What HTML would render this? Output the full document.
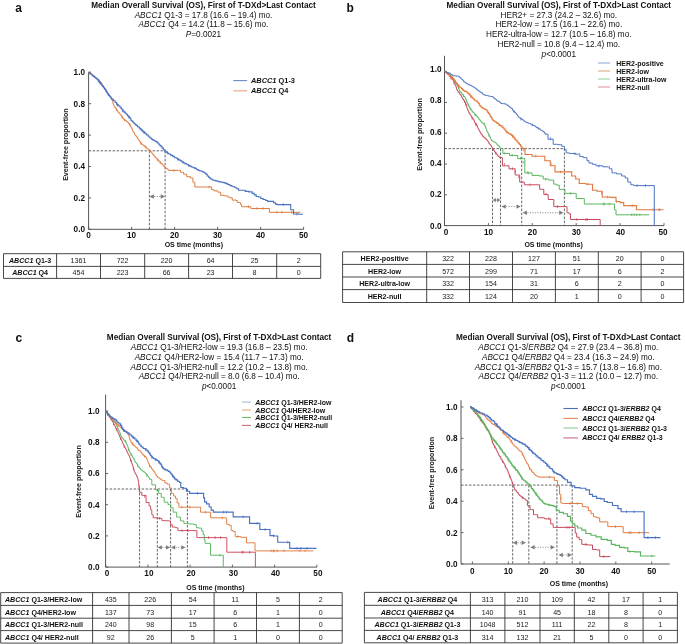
<!DOCTYPE html>
<html><head><meta charset="utf-8"><style>
html,body{margin:0;padding:0;background:#fff;width:685px;height:644px;overflow:hidden}
svg{display:block;filter:blur(0.3px)}
text{font-family:"Liberation Sans", sans-serif}
</style></head><body>
<svg width="685" height="644" viewBox="0 0 685 644" font-family='"Liberation Sans", sans-serif'>
<rect width="685" height="644" fill="#fff"/>
<text x="15.2" y="11.7" font-size="12" font-weight="bold" font-style="normal" text-anchor="start" fill="#111">a</text>
<text x="203.5" y="7.7" font-size="8.2" font-weight="bold" font-style="normal" text-anchor="middle" fill="#111">Median Overall Survival (OS), First of T-DXd&gt;Last Contact</text>
<text x="203.5" y="17.5" font-size="8.2" font-weight="normal" font-style="normal" text-anchor="middle" fill="#111"><tspan font-style="italic">ABCC1</tspan> Q1-3 = 17.8 (16.6 – 19.4) mo.</text>
<text x="203.5" y="27.2" font-size="8.2" font-weight="normal" font-style="normal" text-anchor="middle" fill="#111"><tspan font-style="italic">ABCC1</tspan> Q4 = 14.2 (11.8 – 15.6) mo.</text>
<text x="203.5" y="36.9" font-size="8.2" font-weight="normal" font-style="normal" text-anchor="middle" fill="#111"><tspan font-style="italic">P</tspan>=0.0021</text>
<line x1="88.6" y1="72.3" x2="88.6" y2="229.3" stroke="#555" stroke-width="1"/>
<line x1="88.6" y1="229.3" x2="303.6" y2="229.3" stroke="#555" stroke-width="1"/>
<line x1="88.6" y1="229.3" x2="91.1" y2="229.3" stroke="#555" stroke-width="0.9"/>
<text x="85.0" y="232.2" font-size="8.2" font-weight="bold" font-style="normal" text-anchor="end" fill="#111">0.0</text>
<line x1="88.6" y1="197.9" x2="91.1" y2="197.9" stroke="#555" stroke-width="0.9"/>
<text x="85.0" y="200.8" font-size="8.2" font-weight="bold" font-style="normal" text-anchor="end" fill="#111">0.2</text>
<line x1="88.6" y1="166.5" x2="91.1" y2="166.5" stroke="#555" stroke-width="0.9"/>
<text x="85.0" y="169.4" font-size="8.2" font-weight="bold" font-style="normal" text-anchor="end" fill="#111">0.4</text>
<line x1="88.6" y1="135.1" x2="91.1" y2="135.1" stroke="#555" stroke-width="0.9"/>
<text x="85.0" y="138.0" font-size="8.2" font-weight="bold" font-style="normal" text-anchor="end" fill="#111">0.6</text>
<line x1="88.6" y1="103.7" x2="91.1" y2="103.7" stroke="#555" stroke-width="0.9"/>
<text x="85.0" y="106.6" font-size="8.2" font-weight="bold" font-style="normal" text-anchor="end" fill="#111">0.8</text>
<line x1="88.6" y1="72.3" x2="91.1" y2="72.3" stroke="#555" stroke-width="0.9"/>
<text x="85.0" y="75.2" font-size="8.2" font-weight="bold" font-style="normal" text-anchor="end" fill="#111">1.0</text>
<line x1="88.6" y1="229.3" x2="88.6" y2="226.8" stroke="#555" stroke-width="0.9"/>
<text x="88.6" y="238.0" font-size="8.2" font-weight="bold" font-style="normal" text-anchor="middle" fill="#111">0</text>
<line x1="131.6" y1="229.3" x2="131.6" y2="226.8" stroke="#555" stroke-width="0.9"/>
<text x="131.6" y="238.0" font-size="8.2" font-weight="bold" font-style="normal" text-anchor="middle" fill="#111">10</text>
<line x1="174.6" y1="229.3" x2="174.6" y2="226.8" stroke="#555" stroke-width="0.9"/>
<text x="174.6" y="238.0" font-size="8.2" font-weight="bold" font-style="normal" text-anchor="middle" fill="#111">20</text>
<line x1="217.6" y1="229.3" x2="217.6" y2="226.8" stroke="#555" stroke-width="0.9"/>
<text x="217.6" y="238.0" font-size="8.2" font-weight="bold" font-style="normal" text-anchor="middle" fill="#111">30</text>
<line x1="260.6" y1="229.3" x2="260.6" y2="226.8" stroke="#555" stroke-width="0.9"/>
<text x="260.6" y="238.0" font-size="8.2" font-weight="bold" font-style="normal" text-anchor="middle" fill="#111">40</text>
<line x1="303.6" y1="229.3" x2="303.6" y2="226.8" stroke="#555" stroke-width="0.9"/>
<text x="303.6" y="238.0" font-size="8.2" font-weight="bold" font-style="normal" text-anchor="middle" fill="#111">50</text>
<text x="193.8" y="247.0" font-size="7" font-weight="bold" font-style="normal" text-anchor="middle" fill="#111">OS time (months)</text>
<text x="0" y="0" font-size="7.1" font-weight="bold" text-anchor="middle" fill="#222" transform="translate(68,144.6) rotate(-90)">Event-free proportion</text>
<line x1="233.3" y1="80.6" x2="247.1" y2="80.6" stroke="#6d8ac8" stroke-width="1.1"/>
<text x="251.0" y="83.1" font-size="7.4" font-weight="bold" font-style="normal" text-anchor="start" fill="#111"><tspan font-style="italic">ABCC1</tspan> Q1-3</text>
<line x1="233.3" y1="90.8" x2="247.1" y2="90.8" stroke="#eab299" stroke-width="1.3"/>
<text x="251.0" y="93.3" font-size="7.4" font-weight="bold" font-style="normal" text-anchor="start" fill="#111"><tspan font-style="italic">ABCC1</tspan> Q4</text>
<line x1="88.6" y1="150.8" x2="165.1" y2="150.8" stroke="#555" stroke-width="0.9" stroke-dasharray="2.5,1.5"/>
<line x1="149.4" y1="150.8" x2="149.4" y2="229.3" stroke="#555" stroke-width="0.9" stroke-dasharray="2.5,1.5"/>
<line x1="165.1" y1="150.8" x2="165.1" y2="229.3" stroke="#555" stroke-width="0.9" stroke-dasharray="2.5,1.5"/>
<line x1="154.3" y1="196.5" x2="160.7" y2="196.5" stroke="#808080" stroke-width="1" stroke-dasharray="1,1.5"/>
<polygon points="149.6,196.5 153.8,194.3 153.8,198.7" fill="#7a7a7a"/>
<polygon points="164.9,196.5 160.7,194.3 160.7,198.7" fill="#7a7a7a"/>
<line x1="89.5" y1="71.7" x2="89.5" y2="74.3" stroke="#e07a3e" stroke-width="0.8"/>
<line x1="100.1" y1="81.0" x2="100.1" y2="83.6" stroke="#e07a3e" stroke-width="0.8"/>
<line x1="102.6" y1="84.6" x2="102.6" y2="87.2" stroke="#e07a3e" stroke-width="0.8"/>
<line x1="116.4" y1="108.4" x2="116.4" y2="111.0" stroke="#e07a3e" stroke-width="0.8"/>
<line x1="121.9" y1="115.8" x2="121.9" y2="118.4" stroke="#e07a3e" stroke-width="0.8"/>
<line x1="124.5" y1="118.9" x2="124.5" y2="121.5" stroke="#e07a3e" stroke-width="0.8"/>
<line x1="129.8" y1="123.5" x2="129.8" y2="126.1" stroke="#e07a3e" stroke-width="0.8"/>
<line x1="140.8" y1="142.1" x2="140.8" y2="144.7" stroke="#e07a3e" stroke-width="0.8"/>
<line x1="145.1" y1="145.7" x2="145.1" y2="148.3" stroke="#e07a3e" stroke-width="0.8"/>
<line x1="149.6" y1="149.7" x2="149.6" y2="152.3" stroke="#e07a3e" stroke-width="0.8"/>
<line x1="157.7" y1="158.8" x2="157.7" y2="161.4" stroke="#e07a3e" stroke-width="0.8"/>
<line x1="160.1" y1="161.3" x2="160.1" y2="163.9" stroke="#e07a3e" stroke-width="0.8"/>
<line x1="173.9" y1="169.1" x2="173.9" y2="171.7" stroke="#e07a3e" stroke-width="0.8"/>
<line x1="209.2" y1="185.7" x2="209.2" y2="188.3" stroke="#e07a3e" stroke-width="0.8"/>
<line x1="248.6" y1="205.4" x2="248.6" y2="208.0" stroke="#e07a3e" stroke-width="0.8"/>
<line x1="263.1" y1="207.2" x2="263.1" y2="209.8" stroke="#e07a3e" stroke-width="0.8"/>
<line x1="256.8" y1="207.2" x2="256.8" y2="209.8" stroke="#e07a3e" stroke-width="0.8"/>
<line x1="281.8" y1="211.0" x2="281.8" y2="213.6" stroke="#e07a3e" stroke-width="0.8"/>
<line x1="276.9" y1="211.0" x2="276.9" y2="213.6" stroke="#e07a3e" stroke-width="0.8"/>
<line x1="291.7" y1="211.0" x2="291.7" y2="213.6" stroke="#e07a3e" stroke-width="0.8"/>
<polyline points="88.6,72.3 89.6,72.3 89.6,73.0 90.7,73.0 90.7,74.2 92.2,74.2 92.2,74.9 92.9,74.9 92.9,75.8 94.4,75.8 94.4,77.0 95.4,77.0 95.4,78.2 96.4,78.2 96.4,78.7 97.8,78.7 97.8,79.7 99.0,79.7 99.0,80.8 99.9,80.8 99.9,82.3 101.0,82.3 101.0,83.0 101.7,83.0 101.7,84.6 102.4,84.6 102.4,85.9 103.6,85.9 103.6,86.9 104.0,86.9 104.0,88.3 105.3,88.3 105.3,89.2 105.9,89.2 105.9,90.4 106.7,90.4 106.7,91.8 107.5,91.8 107.5,93.4 108.5,93.4 108.5,94.4 109.5,94.4 109.5,95.7 110.1,95.7 110.1,96.6 110.8,96.6 110.8,98.0 111.4,98.0 111.4,99.1 112.0,99.1 112.0,100.0 112.3,100.0 112.3,101.4 112.8,101.4 112.8,102.3 113.1,102.3 113.1,104.1 113.6,104.1 113.6,104.7 113.9,104.7 113.9,106.2 114.7,106.2 114.7,107.5 115.8,107.5 115.8,108.6 116.3,108.6 116.3,109.8 117.4,109.8 117.4,110.9 118.0,110.9 118.0,112.4 119.2,112.4 119.2,113.7 120.1,113.7 120.1,114.5 120.9,114.5 120.9,115.8 122.0,115.8 122.0,116.6 122.5,116.6 122.5,118.3 123.5,118.3 123.5,119.3 124.8,119.3 124.8,120.3 126.3,120.3 126.3,121.5 127.5,121.5 127.5,122.2 128.3,122.2 128.3,123.5 129.7,123.5 129.7,124.6 130.2,124.6 130.2,125.5 130.7,125.5 130.7,126.9 131.3,126.9 131.3,128.1 132.1,128.1 132.1,129.5 132.5,129.5 132.5,130.7 133.1,130.7 133.1,131.9 133.7,131.9 133.7,132.6 134.5,132.6 134.5,133.9 134.9,133.9 134.9,135.1 135.7,135.1 135.7,136.1 136.9,136.1 136.9,137.6 137.8,137.6 137.8,138.9 138.3,138.9 138.3,139.9 139.2,139.9 139.2,140.9 140.1,140.9 140.1,142.5 141.1,142.5 141.1,143.8 142.3,143.8 142.3,144.9 143.7,144.9 143.7,145.9 145.2,145.9 145.2,146.6 146.3,146.6 146.3,148.1 147.4,148.1 147.4,149.1 148.7,149.1 148.7,149.9 150.0,149.9 150.0,151.2 151.0,151.2 151.0,152.0 151.7,152.0 151.7,153.3 152.8,153.3 152.8,154.6 153.6,154.6 153.6,155.8 154.9,155.8 154.9,157.3 156.1,157.3 156.1,158.3 157.1,158.3 157.1,159.5 158.3,159.5 158.3,161.0 160.0,161.0 160.0,162.4 160.7,162.4 160.7,163.4 162.2,163.4 162.2,164.5 163.1,164.5 163.1,165.7 163.8,165.7 163.8,166.6 165.0,166.6 165.0,168.0 166.5,168.0 166.5,168.8 167.8,168.8 167.8,169.6 168.7,169.6 168.7,170.4 178.6,170.4 180.5,170.4 180.5,172.3 182.4,172.3 183.6,172.3 183.6,174.2 184.8,174.2 186.7,174.2 186.7,176.6 188.6,176.6 190.4,176.6 190.4,177.9 192.3,177.9 192.9,177.9 192.9,182.2 193.5,182.2 194.8,182.2 194.8,187.0 196.0,187.0 210.9,187.0 211.6,187.0 211.6,189.7 212.2,189.7 214.1,189.7 214.1,190.9 215.9,190.9 217.8,190.9 217.8,192.2 219.6,192.2 220.6,192.2 220.6,195.3 221.5,195.3 224.3,195.3 224.3,195.9 227.1,195.9 227.7,195.9 227.7,197.1 228.3,197.1 230.2,197.1 230.2,197.8 232.0,197.8 232.3,197.8 232.3,200.2 232.7,200.2 235.0,200.0 236.0,200.0 236.0,200.5 237.0,200.5 237.3,200.5 237.3,202.4 237.6,202.4 240.1,202.6 240.6,202.6 240.6,204.6 241.1,204.6 241.6,204.6 241.6,206.7 242.2,206.7 250.3,206.7 250.8,206.7 250.8,208.5 251.3,208.5 269.2,208.5 269.4,208.5 269.4,212.3 269.7,212.3 300.4,212.3" fill="none" stroke="#e07a3e" stroke-width="1.0" stroke-linejoin="miter"/>
<line x1="98.3" y1="79.7" x2="98.3" y2="82.3" stroke="#4a72c2" stroke-width="0.8"/>
<line x1="100.2" y1="82.0" x2="100.2" y2="84.6" stroke="#4a72c2" stroke-width="0.8"/>
<line x1="108.3" y1="93.2" x2="108.3" y2="95.8" stroke="#4a72c2" stroke-width="0.8"/>
<line x1="116.8" y1="102.9" x2="116.8" y2="105.5" stroke="#4a72c2" stroke-width="0.8"/>
<line x1="117.8" y1="103.9" x2="117.8" y2="106.5" stroke="#4a72c2" stroke-width="0.8"/>
<line x1="122.8" y1="109.3" x2="122.8" y2="111.9" stroke="#4a72c2" stroke-width="0.8"/>
<line x1="128.8" y1="116.0" x2="128.8" y2="118.6" stroke="#4a72c2" stroke-width="0.8"/>
<line x1="141.2" y1="128.6" x2="141.2" y2="131.2" stroke="#4a72c2" stroke-width="0.8"/>
<line x1="143.7" y1="130.9" x2="143.7" y2="133.5" stroke="#4a72c2" stroke-width="0.8"/>
<line x1="164.9" y1="149.8" x2="164.9" y2="152.4" stroke="#4a72c2" stroke-width="0.8"/>
<line x1="167.5" y1="151.6" x2="167.5" y2="154.2" stroke="#4a72c2" stroke-width="0.8"/>
<line x1="177.6" y1="158.0" x2="177.6" y2="160.6" stroke="#4a72c2" stroke-width="0.8"/>
<line x1="183.0" y1="161.2" x2="183.0" y2="163.8" stroke="#4a72c2" stroke-width="0.8"/>
<line x1="188.8" y1="164.3" x2="188.8" y2="166.9" stroke="#4a72c2" stroke-width="0.8"/>
<line x1="283.3" y1="203.3" x2="283.3" y2="205.9" stroke="#4a72c2" stroke-width="0.8"/>
<line x1="297.0" y1="212.8" x2="297.0" y2="215.4" stroke="#4a72c2" stroke-width="0.8"/>
<polyline points="88.6,72.3 89.8,72.3 89.8,73.5 91.1,73.5 91.1,74.5 91.9,74.5 91.9,75.2 93.0,75.2 93.0,76.4 94.6,76.4 94.6,77.4 95.9,77.4 95.9,78.2 96.9,78.2 96.9,79.2 98.1,79.2 98.1,80.4 99.0,80.4 99.0,81.6 99.8,81.6 99.8,82.9 100.9,82.9 100.9,84.3 101.9,84.3 101.9,85.5 102.5,85.5 102.5,86.4 103.6,86.4 103.6,87.8 104.5,87.8 104.5,89.1 105.4,89.1 105.4,89.8 105.9,89.8 105.9,91.4 106.7,91.4 106.7,92.8 107.6,92.8 107.6,94.0 108.5,94.0 108.5,95.2 109.4,95.2 109.4,96.2 110.4,96.2 110.4,97.4 111.3,97.4 111.3,98.9 112.9,98.9 112.9,100.1 113.7,100.1 113.7,100.8 115.2,100.8 115.2,102.5 116.5,102.5 116.5,103.8 117.2,103.8 117.2,104.8 118.4,104.8 118.4,105.8 119.9,105.8 119.9,107.2 120.9,107.2 120.9,108.1 121.6,108.1 121.6,109.2 122.8,109.2 122.8,111.1 123.9,111.1 123.9,112.1 125.3,112.1 125.3,113.2 126.3,113.2 126.3,114.2 127.5,114.2 127.5,115.6 128.2,115.6 128.2,116.5 129.4,116.5 129.4,117.8 130.4,117.8 130.4,118.8 131.0,118.8 131.0,120.5 132.0,120.5 132.0,121.3 133.0,121.3 133.0,122.5 134.1,122.5 134.1,123.7 135.3,123.7 135.3,124.9 136.7,124.9 136.7,125.5 137.5,125.5 137.5,126.8 139.1,126.8 139.1,127.9 139.9,127.9 139.9,128.9 141.1,128.9 141.1,129.7 142.3,129.7 142.3,130.9 143.1,130.9 143.1,131.9 144.6,131.9 144.6,133.1 145.5,133.1 145.5,133.7 146.6,133.7 146.6,135.0 148.1,135.0 148.1,136.0 149.0,136.0 149.0,137.0 150.1,137.0 150.1,138.0 151.5,138.0 151.5,139.1 152.4,139.1 152.4,139.9 153.8,139.9 153.8,140.5 154.6,140.5 154.6,141.0 155.8,141.0 155.8,141.6 156.8,141.6 156.8,142.1 157.8,142.1 157.8,143.3 159.0,143.3 159.0,144.7 160.0,144.7 160.0,145.6 161.1,145.6 161.1,146.8 162.2,146.8 162.2,148.1 163.3,148.1 163.3,149.2 163.9,149.2 163.9,149.8 165.0,149.8 165.0,151.2 166.0,151.2 166.0,152.1 167.4,152.1 167.4,153.0 168.4,153.0 168.4,153.8 169.7,153.8 169.7,154.3 170.9,154.3 170.9,155.4 172.4,155.4 172.4,156.1 173.8,156.1 173.8,156.7 174.6,156.7 174.6,157.8 176.4,157.8 176.4,158.3 177.7,158.3 177.7,159.1 178.6,159.1 178.6,159.9 180.2,159.9 180.2,160.6 181.3,160.6 181.3,161.3 182.1,161.3 182.1,162.0 183.5,162.0 183.5,162.8 184.8,162.8 184.8,163.6 186.2,163.6 186.2,164.0 187.0,164.0 187.0,164.8 188.6,164.8 188.6,165.5 189.8,165.5 189.8,166.1 191.1,166.1 191.1,166.7 192.0,166.7 192.0,167.2 193.9,167.2 193.9,167.9 195.0,167.9 195.0,168.4 196.4,168.4 196.4,169.3 197.3,169.3 197.3,169.8 198.4,169.8 198.4,170.4 199.5,170.4 199.5,170.7 201.0,170.7 201.0,171.2 202.6,171.2 202.6,171.9 203.5,171.9 203.5,172.3 204.8,172.3 204.8,173.2 206.1,173.2 206.1,174.4 207.2,174.4 207.2,176.0 208.6,176.0 208.6,177.2 209.6,177.2 209.6,178.0 210.6,178.0 210.6,179.0 212.2,179.0 212.2,179.8 213.1,179.8 213.1,180.2 214.9,180.2 214.9,180.5 215.6,180.5 215.6,180.9 217.4,180.9 217.4,181.3 218.4,181.3 218.4,181.6 219.5,181.6 219.5,181.8 220.6,181.8 220.6,182.1 222.1,182.1 222.1,182.3 223.2,182.3 223.2,182.6 224.6,182.6 224.6,182.9 225.7,182.9 225.7,183.4 227.0,183.4 227.0,184.1 228.5,184.1 228.5,184.6 229.6,184.6 229.6,185.3 230.7,185.3 230.7,185.6 231.7,185.6 231.7,186.3 233.1,186.3 233.1,186.7 234.5,186.7 234.5,187.2 235.0,187.3 235.8,187.3 235.8,188.0 237.0,188.0 237.0,188.8 238.6,188.8 238.6,190.3 240.1,190.3 244.2,190.3 245.2,190.3 245.2,191.4 246.2,191.4 248.8,191.4 248.8,191.9 251.3,191.9 252.1,191.9 252.1,193.4 252.9,193.4 254.2,193.4 254.2,194.9 255.4,194.9 256.2,194.9 256.2,196.5 257.0,196.5 258.5,196.5 258.5,197.0 260.0,197.0 260.8,197.0 260.8,198.5 261.6,198.5 263.1,198.5 263.1,199.5 264.6,199.5 265.6,199.5 265.6,200.5 266.7,200.5 267.7,200.5 267.7,201.4 268.7,201.4 272.8,201.4 273.6,201.4 273.6,202.8 274.3,202.8 275.4,202.8 275.4,204.1 276.4,204.1 277.1,204.1 277.1,204.6 277.9,204.6 290.7,204.6 290.7,209.7 293.2,209.7 293.5,209.7 293.5,214.0 293.8,214.0 298.4,214.0 298.4,214.3 303.0,214.3" fill="none" stroke="#4a72c2" stroke-width="1.1" stroke-linejoin="miter"/>
<line x1="3.5" y1="253.7" x2="320.7" y2="253.7" stroke="#333" stroke-width="0.9"/>
<line x1="3.5" y1="266.4" x2="320.7" y2="266.4" stroke="#333" stroke-width="0.9"/>
<line x1="3.5" y1="278.4" x2="320.7" y2="278.4" stroke="#333" stroke-width="0.9"/>
<line x1="3.5" y1="253.7" x2="3.5" y2="278.4" stroke="#333" stroke-width="0.9"/>
<line x1="56.6" y1="253.7" x2="56.6" y2="278.4" stroke="#333" stroke-width="0.9"/>
<line x1="100.5" y1="253.7" x2="100.5" y2="278.4" stroke="#333" stroke-width="0.9"/>
<line x1="144.7" y1="253.7" x2="144.7" y2="278.4" stroke="#333" stroke-width="0.9"/>
<line x1="188.6" y1="253.7" x2="188.6" y2="278.4" stroke="#333" stroke-width="0.9"/>
<line x1="232.5" y1="253.7" x2="232.5" y2="278.4" stroke="#333" stroke-width="0.9"/>
<line x1="276.7" y1="253.7" x2="276.7" y2="278.4" stroke="#333" stroke-width="0.9"/>
<line x1="320.7" y1="253.7" x2="320.7" y2="278.4" stroke="#333" stroke-width="0.9"/>
<text x="30.1" y="262.9" font-size="7.1" font-weight="bold" font-style="normal" text-anchor="middle" fill="#111"><tspan font-style="italic">ABCC1</tspan> Q1-3</text>
<text x="78.5" y="262.9" font-size="7.1" font-weight="normal" font-style="normal" text-anchor="middle" fill="#222">1361</text>
<text x="122.6" y="262.9" font-size="7.1" font-weight="normal" font-style="normal" text-anchor="middle" fill="#222">722</text>
<text x="166.6" y="262.9" font-size="7.1" font-weight="normal" font-style="normal" text-anchor="middle" fill="#222">220</text>
<text x="210.6" y="262.9" font-size="7.1" font-weight="normal" font-style="normal" text-anchor="middle" fill="#222">64</text>
<text x="254.6" y="262.9" font-size="7.1" font-weight="normal" font-style="normal" text-anchor="middle" fill="#222">25</text>
<text x="298.7" y="262.9" font-size="7.1" font-weight="normal" font-style="normal" text-anchor="middle" fill="#222">2</text>
<text x="30.1" y="275.3" font-size="7.1" font-weight="bold" font-style="normal" text-anchor="middle" fill="#111"><tspan font-style="italic">ABCC1</tspan> Q4</text>
<text x="78.5" y="275.3" font-size="7.1" font-weight="normal" font-style="normal" text-anchor="middle" fill="#222">454</text>
<text x="122.6" y="275.3" font-size="7.1" font-weight="normal" font-style="normal" text-anchor="middle" fill="#222">223</text>
<text x="166.6" y="275.3" font-size="7.1" font-weight="normal" font-style="normal" text-anchor="middle" fill="#222">66</text>
<text x="210.6" y="275.3" font-size="7.1" font-weight="normal" font-style="normal" text-anchor="middle" fill="#222">23</text>
<text x="254.6" y="275.3" font-size="7.1" font-weight="normal" font-style="normal" text-anchor="middle" fill="#222">8</text>
<text x="298.7" y="275.3" font-size="7.1" font-weight="normal" font-style="normal" text-anchor="middle" fill="#222">0</text>
<text x="346.6" y="11.8" font-size="12" font-weight="bold" font-style="normal" text-anchor="start" fill="#111">b</text>
<text x="558.8" y="7.7" font-size="8.2" font-weight="bold" font-style="normal" text-anchor="middle" fill="#111">Median Overall Survival (OS), First of T-DXd&gt;Last Contact</text>
<text x="558.8" y="17.5" font-size="8.2" font-weight="normal" font-style="normal" text-anchor="middle" fill="#111">HER2+ = 27.3 (24.2 – 32.6) mo.</text>
<text x="558.8" y="27.3" font-size="8.2" font-weight="normal" font-style="normal" text-anchor="middle" fill="#111">HER2-low = 17.5 (16.1 – 22.6) mo.</text>
<text x="558.8" y="37.0" font-size="8.2" font-weight="normal" font-style="normal" text-anchor="middle" fill="#111">HER2-ultra-low = 12.7 (10.5 – 16.8) mo.</text>
<text x="558.8" y="46.8" font-size="8.2" font-weight="normal" font-style="normal" text-anchor="middle" fill="#111">HER2-null = 10.8 (9.4 – 12.4) mo.</text>
<text x="558.8" y="56.6" font-size="8.2" font-weight="normal" font-style="normal" text-anchor="middle" fill="#111"><tspan font-style="italic">p</tspan>&lt;0.0001</text>
<line x1="444.5" y1="55.8" x2="444.5" y2="225.6" stroke="#555" stroke-width="1"/>
<line x1="444.5" y1="225.6" x2="664.0" y2="225.6" stroke="#555" stroke-width="1"/>
<line x1="444.5" y1="225.6" x2="447.0" y2="225.6" stroke="#555" stroke-width="0.9"/>
<text x="441.5" y="228.6" font-size="8.2" font-weight="bold" font-style="normal" text-anchor="end" fill="#111">0.0</text>
<line x1="444.5" y1="194.8" x2="447.0" y2="194.8" stroke="#555" stroke-width="0.9"/>
<text x="441.5" y="197.2" font-size="8.2" font-weight="bold" font-style="normal" text-anchor="end" fill="#111">0.2</text>
<line x1="444.5" y1="164.0" x2="447.0" y2="164.0" stroke="#555" stroke-width="0.9"/>
<text x="441.5" y="165.9" font-size="8.2" font-weight="bold" font-style="normal" text-anchor="end" fill="#111">0.4</text>
<line x1="444.5" y1="133.2" x2="447.0" y2="133.2" stroke="#555" stroke-width="0.9"/>
<text x="441.5" y="134.5" font-size="8.2" font-weight="bold" font-style="normal" text-anchor="end" fill="#111">0.6</text>
<line x1="444.5" y1="102.4" x2="447.0" y2="102.4" stroke="#555" stroke-width="0.9"/>
<text x="441.5" y="103.2" font-size="8.2" font-weight="bold" font-style="normal" text-anchor="end" fill="#111">0.8</text>
<line x1="444.5" y1="71.6" x2="447.0" y2="71.6" stroke="#555" stroke-width="0.9"/>
<text x="441.5" y="71.8" font-size="8.2" font-weight="bold" font-style="normal" text-anchor="end" fill="#111">1.0</text>
<line x1="444.5" y1="225.6" x2="444.5" y2="223.1" stroke="#555" stroke-width="0.9"/>
<text x="446.0" y="234.8" font-size="8.2" font-weight="bold" font-style="normal" text-anchor="middle" fill="#111">0</text>
<line x1="488.4" y1="225.6" x2="488.4" y2="223.1" stroke="#555" stroke-width="0.9"/>
<text x="488.6" y="234.8" font-size="8.2" font-weight="bold" font-style="normal" text-anchor="middle" fill="#111">10</text>
<line x1="532.3" y1="225.6" x2="532.3" y2="223.1" stroke="#555" stroke-width="0.9"/>
<text x="532.4" y="234.8" font-size="8.2" font-weight="bold" font-style="normal" text-anchor="middle" fill="#111">20</text>
<line x1="576.2" y1="225.6" x2="576.2" y2="223.1" stroke="#555" stroke-width="0.9"/>
<text x="576.3" y="234.8" font-size="8.2" font-weight="bold" font-style="normal" text-anchor="middle" fill="#111">30</text>
<line x1="620.1" y1="225.6" x2="620.1" y2="223.1" stroke="#555" stroke-width="0.9"/>
<text x="620.6" y="234.8" font-size="8.2" font-weight="bold" font-style="normal" text-anchor="middle" fill="#111">40</text>
<line x1="664.0" y1="225.6" x2="664.0" y2="223.1" stroke="#555" stroke-width="0.9"/>
<text x="663.1" y="234.8" font-size="8.2" font-weight="bold" font-style="normal" text-anchor="middle" fill="#111">50</text>
<text x="553.6" y="246.5" font-size="7" font-weight="bold" font-style="normal" text-anchor="middle" fill="#111">OS time (months)</text>
<text x="0" y="0" font-size="7.1" font-weight="bold" text-anchor="middle" fill="#222" transform="translate(422,134.4) rotate(-90)">Event-free proportion</text>
<line x1="597.9" y1="63.0" x2="610.2" y2="63.0" stroke="#b0c4e4" stroke-width="1.5"/>
<text x="616.3" y="65.5" font-size="7" font-weight="bold" font-style="normal" text-anchor="start" fill="#111">HER2-positive</text>
<line x1="597.9" y1="71.0" x2="610.2" y2="71.0" stroke="#ebbf9f" stroke-width="1.5"/>
<text x="616.3" y="73.5" font-size="7" font-weight="bold" font-style="normal" text-anchor="start" fill="#111">HER2-low</text>
<line x1="597.9" y1="79.0" x2="610.2" y2="79.0" stroke="#b5e0b8" stroke-width="1.5"/>
<text x="616.3" y="81.5" font-size="7" font-weight="bold" font-style="normal" text-anchor="start" fill="#111">HER2-ultra-low</text>
<line x1="597.9" y1="87.0" x2="610.2" y2="87.0" stroke="#e8b4bd" stroke-width="1.5"/>
<text x="616.3" y="89.5" font-size="7" font-weight="bold" font-style="normal" text-anchor="start" fill="#111">HER2-null</text>
<line x1="444.5" y1="148.6" x2="564.4" y2="148.6" stroke="#555" stroke-width="0.9" stroke-dasharray="2.5,1.5"/>
<line x1="492.5" y1="148.6" x2="492.5" y2="225.6" stroke="#555" stroke-width="0.9" stroke-dasharray="2.5,1.5"/>
<line x1="500.5" y1="148.6" x2="500.5" y2="225.6" stroke="#555" stroke-width="0.9" stroke-dasharray="2.5,1.5"/>
<line x1="521.7" y1="148.6" x2="521.7" y2="225.6" stroke="#555" stroke-width="0.9" stroke-dasharray="2.5,1.5"/>
<line x1="564.4" y1="148.6" x2="564.4" y2="225.6" stroke="#555" stroke-width="0.9" stroke-dasharray="2.5,1.5"/>
<line x1="496.4" y1="200.1" x2="497.1" y2="200.1" stroke="#808080" stroke-width="1" stroke-dasharray="1,1.5"/>
<polygon points="492.7,200.1 495.9,197.9 495.9,202.3" fill="#7a7a7a"/>
<polygon points="500.3,200.1 497.1,197.9 497.1,202.3" fill="#7a7a7a"/>
<line x1="506.2" y1="206.6" x2="516.5" y2="206.6" stroke="#808080" stroke-width="1" stroke-dasharray="1,1.5"/>
<polygon points="501.5,206.6 505.7,204.4 505.7,208.8" fill="#7a7a7a"/>
<polygon points="520.7,206.6 516.5,204.4 516.5,208.8" fill="#7a7a7a"/>
<line x1="527.4" y1="212.8" x2="559.2" y2="212.8" stroke="#808080" stroke-width="1" stroke-dasharray="1,1.5"/>
<polygon points="522.7,212.8 526.9,210.6 526.9,215.0" fill="#7a7a7a"/>
<polygon points="563.4,212.8 559.2,210.6 559.2,215.0" fill="#7a7a7a"/>
<line x1="451.0" y1="76.9" x2="451.0" y2="79.5" stroke="#c8495b" stroke-width="0.8"/>
<line x1="454.1" y1="81.6" x2="454.1" y2="84.2" stroke="#c8495b" stroke-width="0.8"/>
<line x1="464.5" y1="100.3" x2="464.5" y2="102.9" stroke="#c8495b" stroke-width="0.8"/>
<line x1="465.6" y1="103.0" x2="465.6" y2="105.6" stroke="#c8495b" stroke-width="0.8"/>
<line x1="472.2" y1="117.0" x2="472.2" y2="119.6" stroke="#c8495b" stroke-width="0.8"/>
<line x1="475.9" y1="123.0" x2="475.9" y2="125.6" stroke="#c8495b" stroke-width="0.8"/>
<line x1="476.2" y1="123.5" x2="476.2" y2="126.1" stroke="#c8495b" stroke-width="0.8"/>
<line x1="495.8" y1="151.9" x2="495.8" y2="154.5" stroke="#c8495b" stroke-width="0.8"/>
<line x1="504.3" y1="163.0" x2="504.3" y2="165.6" stroke="#c8495b" stroke-width="0.8"/>
<line x1="512.4" y1="167.4" x2="512.4" y2="170.0" stroke="#c8495b" stroke-width="0.8"/>
<line x1="514.9" y1="170.3" x2="514.9" y2="172.9" stroke="#c8495b" stroke-width="0.8"/>
<line x1="518.8" y1="175.6" x2="518.8" y2="178.2" stroke="#c8495b" stroke-width="0.8"/>
<line x1="529.9" y1="183.5" x2="529.9" y2="186.1" stroke="#c8495b" stroke-width="0.8"/>
<line x1="546.0" y1="192.8" x2="546.0" y2="195.4" stroke="#c8495b" stroke-width="0.8"/>
<line x1="557.5" y1="205.3" x2="557.5" y2="207.9" stroke="#c8495b" stroke-width="0.8"/>
<line x1="587.3" y1="218.2" x2="587.3" y2="220.8" stroke="#c8495b" stroke-width="0.8"/>
<line x1="576.8" y1="218.2" x2="576.8" y2="220.8" stroke="#c8495b" stroke-width="0.8"/>
<line x1="585.9" y1="218.2" x2="585.9" y2="220.8" stroke="#c8495b" stroke-width="0.8"/>
<polyline points="444.5,71.4 445.5,71.4 445.5,72.3 447.0,72.3 447.0,74.0 448.7,74.0 448.7,75.0 449.4,75.0 449.4,76.2 450.2,76.2 450.2,77.1 451.0,77.1 451.0,78.2 452.2,78.2 452.2,79.4 453.1,79.4 453.1,80.6 453.7,80.6 453.7,81.8 454.1,81.8 454.1,83.3 454.6,83.3 454.6,84.0 455.0,84.0 455.0,85.2 455.7,85.2 455.7,86.1 456.1,86.1 456.1,87.5 456.5,87.5 456.5,88.8 456.9,88.8 456.9,89.9 457.4,89.9 457.4,91.1 458.2,91.1 458.2,92.2 459.3,92.2 459.3,93.3 459.9,93.3 459.9,94.8 461.1,94.8 461.1,96.1 461.7,96.1 461.7,97.4 462.4,97.4 462.4,98.6 463.3,98.6 463.3,100.0 464.0,100.0 464.0,101.2 464.9,101.2 464.9,102.3 465.4,102.3 465.4,103.6 465.9,103.6 465.9,104.4 466.3,104.4 466.3,106.3 466.7,106.3 466.7,107.5 467.3,107.5 467.3,108.6 467.6,108.6 467.6,109.9 468.2,109.9 468.2,111.2 468.6,111.2 468.6,112.2 469.2,112.2 469.2,113.7 470.1,113.7 470.1,114.9 470.8,114.9 470.8,116.0 471.7,116.0 471.7,117.5 472.3,117.5 472.3,118.4 473.1,118.4 473.1,119.4 473.9,119.4 473.9,120.8 474.5,120.8 474.5,121.9 475.1,121.9 475.1,123.7 476.1,123.7 476.1,124.7 476.7,124.7 476.7,125.6 477.4,125.6 477.4,127.4 478.0,127.4 478.0,128.6 478.6,128.6 478.6,129.6 479.2,129.6 479.2,130.9 479.8,130.9 479.8,132.1 480.7,132.1 480.7,133.5 481.2,133.5 481.2,134.4 482.3,134.4 482.3,135.8 483.2,135.8 483.2,137.2 484.6,137.2 484.6,138.1 486.0,138.1 486.0,139.6 487.1,139.6 487.1,140.7 488.1,140.7 488.1,142.0 488.8,142.0 488.8,143.4 489.7,143.4 489.7,144.5 490.6,144.5 490.6,145.4 491.3,145.4 491.3,146.7 492.1,146.7 492.1,148.1 492.8,148.1 492.8,149.5 493.9,149.5 493.9,150.8 494.5,150.8 494.5,151.9 495.6,151.9 495.6,153.1 496.2,153.1 496.2,154.0 497.2,154.0 497.2,155.3 498.2,155.3 498.2,156.4 499.3,156.4 499.3,157.6 502.4,157.6 502.4,165.8 505.4,165.8 509.0,165.8 509.0,168.8 512.6,168.8 515.2,168.8 515.2,175.0 517.7,175.0 519.7,175.0 519.7,182.1 521.7,182.1 524.3,182.1 524.3,184.8 526.9,184.8 538.1,184.8 539.7,184.8 539.7,189.3 541.2,189.3 543.8,189.3 543.8,194.4 546.3,194.4 548.1,194.4 548.3,199.5 553.4,199.5 553.8,199.5 553.8,206.6 554.2,206.6 566.5,206.6 567.0,206.6 567.0,212.8 567.5,212.8 569.0,212.8 569.0,213.8 570.5,213.8 570.5,219.5 600.2,219.5 600.2,225.6" fill="none" stroke="#c8495b" stroke-width="1.0" stroke-linejoin="miter"/>
<line x1="453.8" y1="78.8" x2="453.8" y2="81.4" stroke="#5ab55e" stroke-width="0.8"/>
<line x1="463.4" y1="94.4" x2="463.4" y2="97.0" stroke="#5ab55e" stroke-width="0.8"/>
<line x1="468.2" y1="103.8" x2="468.2" y2="106.4" stroke="#5ab55e" stroke-width="0.8"/>
<line x1="470.4" y1="107.6" x2="470.4" y2="110.2" stroke="#5ab55e" stroke-width="0.8"/>
<line x1="475.2" y1="113.8" x2="475.2" y2="116.4" stroke="#5ab55e" stroke-width="0.8"/>
<line x1="484.1" y1="122.7" x2="484.1" y2="125.3" stroke="#5ab55e" stroke-width="0.8"/>
<line x1="488.9" y1="134.2" x2="488.9" y2="136.8" stroke="#5ab55e" stroke-width="0.8"/>
<line x1="505.0" y1="151.8" x2="505.0" y2="154.4" stroke="#5ab55e" stroke-width="0.8"/>
<line x1="512.2" y1="153.9" x2="512.2" y2="156.5" stroke="#5ab55e" stroke-width="0.8"/>
<line x1="520.5" y1="156.9" x2="520.5" y2="159.5" stroke="#5ab55e" stroke-width="0.8"/>
<line x1="527.7" y1="171.2" x2="527.7" y2="173.8" stroke="#5ab55e" stroke-width="0.8"/>
<line x1="523.2" y1="160.9" x2="523.2" y2="163.5" stroke="#5ab55e" stroke-width="0.8"/>
<line x1="528.8" y1="171.9" x2="528.8" y2="174.5" stroke="#5ab55e" stroke-width="0.8"/>
<line x1="545.6" y1="177.9" x2="545.6" y2="180.5" stroke="#5ab55e" stroke-width="0.8"/>
<line x1="570.7" y1="192.1" x2="570.7" y2="194.7" stroke="#5ab55e" stroke-width="0.8"/>
<line x1="603.4" y1="202.7" x2="603.4" y2="205.3" stroke="#5ab55e" stroke-width="0.8"/>
<line x1="609.3" y1="202.7" x2="609.3" y2="205.3" stroke="#5ab55e" stroke-width="0.8"/>
<line x1="604.3" y1="202.7" x2="604.3" y2="205.3" stroke="#5ab55e" stroke-width="0.8"/>
<line x1="636.7" y1="213.5" x2="636.7" y2="216.1" stroke="#5ab55e" stroke-width="0.8"/>
<line x1="639.8" y1="213.5" x2="639.8" y2="216.1" stroke="#5ab55e" stroke-width="0.8"/>
<line x1="631.7" y1="213.5" x2="631.7" y2="216.1" stroke="#5ab55e" stroke-width="0.8"/>
<line x1="634.2" y1="213.5" x2="634.2" y2="216.1" stroke="#5ab55e" stroke-width="0.8"/>
<polyline points="444.5,71.4 445.9,71.4 445.9,72.3 446.5,72.3 446.5,72.9 448.0,72.9 448.0,73.4 448.9,73.4 448.9,74.5 450.0,74.5 450.0,75.0 450.9,75.0 450.9,76.2 451.6,76.2 451.6,77.4 452.5,77.4 452.5,78.5 453.7,78.5 453.7,79.9 454.3,79.9 454.3,80.8 455.1,80.8 455.1,82.6 455.8,82.6 455.8,83.9 456.8,83.9 456.8,84.6 457.4,84.6 457.4,86.1 458.0,86.1 458.0,87.1 458.5,87.1 458.5,88.3 459.0,88.3 459.0,89.8 459.3,89.8 459.3,90.6 459.9,90.6 459.9,91.7 460.8,91.7 460.8,92.6 461.9,92.6 461.9,94.2 462.8,94.2 462.8,94.9 463.6,94.9 463.6,96.5 464.9,96.5 464.9,97.3 465.3,97.3 465.3,98.8 465.9,98.8 465.9,100.0 466.5,100.0 466.5,101.1 466.9,101.1 466.9,102.6 467.5,102.6 467.5,103.8 468.2,103.8 468.2,104.8 468.6,104.8 468.6,106.0 469.4,106.0 469.4,107.4 469.9,107.4 469.9,108.6 470.9,108.6 470.9,109.6 471.5,109.6 471.5,110.6 472.3,110.6 472.3,112.2 473.9,112.2 473.9,113.3 474.5,113.3 474.5,114.5 476.0,114.5 476.0,116.1 477.3,116.1 477.3,117.2 478.5,117.2 478.5,118.3 479.0,118.3 479.0,119.7 480.2,119.7 480.2,120.9 481.0,120.9 481.0,122.2 481.8,122.2 481.8,122.7 482.9,122.7 482.9,123.5 484.1,123.5 484.1,124.0 484.5,124.0 484.5,124.9 484.9,124.9 484.9,126.0 485.5,126.0 485.5,127.4 486.0,127.4 486.0,128.3 486.3,128.3 486.3,129.6 486.7,129.6 486.7,130.8 487.2,130.8 487.2,132.1 487.9,132.1 487.9,133.3 488.6,133.3 488.6,134.5 489.2,134.5 489.2,135.5 489.7,135.5 489.7,136.9 490.3,136.9 490.3,138.7 491.0,138.7 491.0,139.3 491.6,139.3 491.6,140.8 492.7,140.8 492.7,141.3 493.8,141.3 493.8,142.0 495.1,142.0 495.1,142.6 495.9,142.6 495.9,143.3 496.8,143.3 496.8,144.6 497.8,144.6 497.8,145.7 499.0,145.7 499.0,146.2 499.7,146.2 499.7,147.6 500.3,147.6 500.3,148.4 502.9,148.4 502.9,153.5 505.4,153.5 509.5,153.5 509.5,155.5 513.6,155.5 517.7,155.5 517.7,158.6 521.7,158.6 524.8,158.6 524.8,172.9 527.9,172.9 532.0,172.9 532.0,175.4 536.1,175.4 539.2,175.4 539.2,176.0 542.2,176.0 543.2,176.0 543.2,179.0 544.2,179.0 548.7,179.0 548.7,180.1 553.2,180.1 553.7,180.1 553.7,184.2 554.2,184.2 556.8,184.2 556.8,185.2 559.3,185.2 559.3,189.3 564.4,189.3 564.9,189.3 564.9,193.4 565.4,193.4 575.7,193.4 576.2,193.4 576.2,198.5 576.7,198.5 583.8,198.5 584.3,198.5 584.3,204.0 584.9,204.0 613.5,204.0 614.5,204.0 614.5,209.7 615.5,209.7 616.0,209.7 616.0,214.8 616.5,214.8 649.2,214.8" fill="none" stroke="#5ab55e" stroke-width="1.0" stroke-linejoin="miter"/>
<line x1="449.6" y1="74.5" x2="449.6" y2="77.1" stroke="#e07a3e" stroke-width="0.8"/>
<line x1="458.7" y1="84.9" x2="458.7" y2="87.5" stroke="#e07a3e" stroke-width="0.8"/>
<line x1="471.1" y1="95.4" x2="471.1" y2="98.0" stroke="#e07a3e" stroke-width="0.8"/>
<line x1="506.6" y1="130.8" x2="506.6" y2="133.4" stroke="#e07a3e" stroke-width="0.8"/>
<line x1="512.5" y1="135.2" x2="512.5" y2="137.8" stroke="#e07a3e" stroke-width="0.8"/>
<line x1="523.6" y1="148.7" x2="523.6" y2="151.3" stroke="#e07a3e" stroke-width="0.8"/>
<line x1="535.8" y1="154.8" x2="535.8" y2="157.4" stroke="#e07a3e" stroke-width="0.8"/>
<line x1="551.1" y1="162.5" x2="551.1" y2="165.1" stroke="#e07a3e" stroke-width="0.8"/>
<line x1="560.6" y1="170.6" x2="560.6" y2="173.2" stroke="#e07a3e" stroke-width="0.8"/>
<line x1="588.1" y1="182.7" x2="588.1" y2="185.3" stroke="#e07a3e" stroke-width="0.8"/>
<line x1="601.5" y1="191.8" x2="601.5" y2="194.4" stroke="#e07a3e" stroke-width="0.8"/>
<line x1="607.4" y1="195.8" x2="607.4" y2="198.4" stroke="#e07a3e" stroke-width="0.8"/>
<line x1="616.5" y1="200.2" x2="616.5" y2="202.8" stroke="#e07a3e" stroke-width="0.8"/>
<line x1="632.3" y1="204.3" x2="632.3" y2="206.9" stroke="#e07a3e" stroke-width="0.8"/>
<line x1="659.1" y1="208.4" x2="659.1" y2="211.0" stroke="#e07a3e" stroke-width="0.8"/>
<line x1="653.1" y1="208.4" x2="653.1" y2="211.0" stroke="#e07a3e" stroke-width="0.8"/>
<line x1="659.6" y1="208.4" x2="659.6" y2="211.0" stroke="#e07a3e" stroke-width="0.8"/>
<polyline points="444.5,71.4 445.3,71.4 445.3,72.4 446.9,72.4 446.9,73.2 447.6,73.2 447.6,74.1 449.2,74.1 449.2,75.1 450.0,75.1 450.0,76.2 451.3,76.2 451.3,77.1 452.6,77.1 452.6,78.3 453.7,78.3 453.7,79.9 454.6,79.9 454.6,80.9 455.6,80.9 455.6,82.5 456.4,82.5 456.4,83.3 457.4,83.3 457.4,84.9 458.5,84.9 458.5,86.3 459.9,86.3 459.9,87.7 461.5,87.7 461.5,88.6 462.4,88.6 462.4,89.9 463.5,89.9 463.5,90.8 464.7,90.8 464.7,91.4 466.5,91.4 466.5,92.0 467.4,92.0 467.4,93.0 468.6,93.0 468.6,94.1 470.0,94.1 470.0,95.6 471.0,95.6 471.0,97.1 472.3,97.1 472.3,98.0 473.3,98.0 473.3,99.0 474.5,99.0 474.5,100.3 475.9,100.3 475.9,101.0 477.3,101.0 477.3,102.3 478.4,102.3 478.4,103.3 479.3,103.3 479.3,105.2 480.1,105.2 480.1,105.9 481.0,105.9 481.0,107.3 482.5,107.3 482.5,108.0 483.3,108.0 483.3,108.5 484.5,108.5 484.5,109.3 486.0,109.3 486.0,109.8 486.9,109.8 486.9,111.0 487.7,111.0 487.7,112.4 488.6,112.4 488.6,113.8 489.7,113.8 489.7,114.7 490.2,114.7 490.2,116.3 490.9,116.3 490.9,116.9 491.5,116.9 491.5,118.1 492.2,118.1 492.2,119.7 493.1,119.7 493.1,120.8 494.6,120.8 494.6,121.7 496.2,121.7 496.2,122.8 497.2,122.8 497.2,123.4 498.7,123.4 498.7,124.6 499.5,124.6 499.5,125.4 500.6,125.4 500.6,125.9 502.1,125.9 502.1,127.1 503.2,127.1 503.2,128.0 504.0,128.0 504.0,129.0 505.0,129.0 505.0,130.3 506.0,130.3 506.0,131.5 507.1,131.5 507.1,132.7 508.7,132.7 508.7,133.5 509.3,133.5 509.3,133.9 510.8,133.9 510.8,134.6 511.7,134.6 511.7,135.4 513.0,135.4 513.0,136.8 514.0,136.8 514.0,137.9 514.8,137.9 514.8,139.4 515.8,139.4 515.8,140.2 516.6,140.2 516.6,141.0 517.6,141.0 517.6,142.3 518.8,142.3 518.8,143.6 519.5,143.6 519.5,144.5 520.5,144.5 520.5,145.4 520.9,145.4 520.9,146.7 522.0,146.7 522.0,148.3 525.0,148.3 525.0,154.5 527.9,154.5 532.0,154.5 532.0,156.2 536.1,156.2 542.2,156.2 544.8,156.2 544.8,160.7 547.3,160.7 550.3,160.7 550.3,165.8 553.4,165.8 555.0,165.8 555.0,171.9 556.5,171.9 569.8,171.9 571.7,171.9 571.7,176.0 573.6,176.0 575.7,176.0 575.7,179.0 577.7,179.0 579.2,179.0 579.2,183.5 580.8,183.5 585.9,183.5 585.9,184.2 591.0,184.2 592.5,184.2 592.5,190.3 594.0,190.3 597.1,190.3 597.1,191.3 600.2,191.3 602.2,191.3 602.2,197.0 604.3,197.0 609.9,197.0 609.9,197.4 615.5,197.4 616.0,197.4 616.0,201.5 616.5,201.5 620.1,201.5 620.1,202.6 623.7,202.6 623.7,205.6 635.9,205.6 636.5,205.6 636.5,209.7 637.0,209.7 663.5,209.7" fill="none" stroke="#e07a3e" stroke-width="1.1" stroke-linejoin="miter"/>
<line x1="514.1" y1="110.4" x2="514.1" y2="113.0" stroke="#4a72c2" stroke-width="0.8"/>
<line x1="520.9" y1="117.8" x2="520.9" y2="120.4" stroke="#4a72c2" stroke-width="0.8"/>
<line x1="532.3" y1="123.7" x2="532.3" y2="126.3" stroke="#4a72c2" stroke-width="0.8"/>
<line x1="538.1" y1="127.2" x2="538.1" y2="129.8" stroke="#4a72c2" stroke-width="0.8"/>
<line x1="550.4" y1="137.3" x2="550.4" y2="139.9" stroke="#4a72c2" stroke-width="0.8"/>
<line x1="574.9" y1="152.5" x2="574.9" y2="155.1" stroke="#4a72c2" stroke-width="0.8"/>
<line x1="598.9" y1="164.7" x2="598.9" y2="167.3" stroke="#4a72c2" stroke-width="0.8"/>
<line x1="637.1" y1="184.3" x2="637.1" y2="186.9" stroke="#4a72c2" stroke-width="0.8"/>
<line x1="645.4" y1="184.3" x2="645.4" y2="186.9" stroke="#4a72c2" stroke-width="0.8"/>
<polyline points="444.5,71.4 445.5,71.4 445.5,72.0 447.1,72.0 447.1,72.7 448.7,72.7 448.7,73.1 450.3,73.1 450.3,73.8 451.1,73.8 451.1,74.7 452.5,74.7 452.5,75.6 453.7,75.6 453.7,75.8 455.3,75.8 455.3,75.9 455.9,75.9 455.9,76.1 457.4,76.1 457.4,76.2 458.8,76.2 458.8,76.9 459.9,76.9 459.9,77.8 461.1,77.8 461.1,78.7 461.9,78.7 461.9,79.5 462.9,79.5 462.9,80.6 463.6,80.6 463.6,81.8 465.0,81.8 465.0,82.4 465.9,82.4 465.9,83.4 467.0,83.4 467.0,84.0 468.6,84.0 468.6,84.9 470.2,84.9 470.2,85.4 471.4,85.4 471.4,86.0 472.7,86.0 472.7,86.6 473.6,86.6 473.6,87.4 474.8,87.4 474.8,88.2 476.2,88.2 476.2,89.2 477.2,89.2 477.2,90.2 478.5,90.2 478.5,91.1 479.9,91.1 479.9,92.1 481.2,92.1 481.2,92.7 482.5,92.7 482.5,94.1 483.5,94.1 483.5,94.8 484.6,94.8 484.6,95.2 486.1,95.2 486.1,95.4 487.2,95.4 487.2,95.7 488.5,95.7 488.5,96.1 489.5,96.1 489.5,96.3 490.7,96.3 490.7,96.5 492.2,96.5 492.2,96.7 493.3,96.7 493.3,98.0 494.6,98.0 494.6,98.8 495.9,98.8 495.9,99.8 496.9,99.8 496.9,101.0 498.6,101.0 498.6,101.4 499.8,101.4 499.8,102.6 500.9,102.6 500.9,103.5 502.4,103.5 502.4,103.6 503.7,103.6 503.7,103.8 505.0,103.8 505.0,104.0 505.9,104.0 505.9,104.2 506.9,104.2 506.9,105.3 508.7,105.3 508.7,106.5 509.6,106.5 509.6,107.3 510.8,107.3 510.8,108.3 512.4,108.3 512.4,110.0 513.3,110.0 513.3,111.3 514.6,111.3 514.6,112.2 515.3,112.2 515.3,113.2 516.5,113.2 516.5,114.6 517.4,114.6 517.4,115.7 518.3,115.7 518.3,117.2 519.3,117.2 519.3,117.9 520.6,117.9 520.6,118.7 522.1,118.7 522.1,119.7 523.4,119.7 523.4,120.8 524.5,120.8 524.5,121.6 525.5,121.6 525.5,122.1 526.7,122.1 526.7,122.6 527.9,122.6 527.9,123.2 529.5,123.2 529.5,123.5 530.5,123.5 530.5,124.1 531.3,124.1 531.3,124.7 532.5,124.7 532.5,125.2 534.0,125.2 534.0,125.7 535.1,125.7 535.1,126.7 536.4,126.7 536.4,127.7 538.1,127.7 538.1,128.2 538.9,128.2 538.9,128.9 540.3,128.9 540.3,130.1 541.4,130.1 541.4,130.6 542.7,130.6 542.7,131.4 544.0,131.4 544.0,132.5 545.0,132.5 545.0,134.1 548.0,134.1 548.0,139.2 551.1,139.2 553.2,139.2 553.2,144.3 555.2,144.3 557.8,144.3 557.8,144.7 560.3,144.7 561.8,144.7 561.8,146.3 563.4,146.3 564.4,146.3 564.4,149.4 565.4,149.4 566.2,149.4 566.2,152.9 567.1,152.9 569.4,152.9 569.4,153.5 571.6,153.5 575.2,153.5 575.2,154.1 578.7,154.1 579.8,154.1 579.8,156.6 580.8,156.6 583.3,156.6 583.3,157.6 585.9,157.6 586.9,157.6 586.9,160.7 587.9,160.7 589.0,160.7 589.0,163.1 590.0,163.1 592.5,163.1 592.5,164.3 595.1,164.3 596.1,164.3 596.1,165.8 597.1,165.8 602.8,165.8 602.8,166.8 608.4,166.8 609.4,166.8 609.4,168.8 610.4,168.8 612.0,168.8 612.0,172.9 613.5,172.9 616.5,172.9 616.5,173.9 619.6,173.9 621.7,173.9 621.7,176.0 623.7,176.0 625.2,176.0 625.2,178.0 626.7,178.0 627.8,178.0 627.8,182.1 628.8,182.1 630.8,182.1 630.8,184.8 632.9,184.8 633.9,184.8 633.9,185.6 634.9,185.6 654.3,185.6 654.3,225.6" fill="none" stroke="#4a72c2" stroke-width="1.0" stroke-linejoin="miter"/>
<line x1="342.6" y1="251.8" x2="683.6" y2="251.8" stroke="#333" stroke-width="0.9"/>
<line x1="342.6" y1="264.4" x2="683.6" y2="264.4" stroke="#333" stroke-width="0.9"/>
<line x1="342.6" y1="277.0" x2="683.6" y2="277.0" stroke="#333" stroke-width="0.9"/>
<line x1="342.6" y1="289.6" x2="683.6" y2="289.6" stroke="#333" stroke-width="0.9"/>
<line x1="342.6" y1="302.5" x2="683.6" y2="302.5" stroke="#333" stroke-width="0.9"/>
<line x1="342.6" y1="251.8" x2="342.6" y2="302.5" stroke="#333" stroke-width="0.9"/>
<line x1="426.7" y1="251.8" x2="426.7" y2="302.5" stroke="#333" stroke-width="0.9"/>
<line x1="469.5" y1="251.8" x2="469.5" y2="302.5" stroke="#333" stroke-width="0.9"/>
<line x1="512.5" y1="251.8" x2="512.5" y2="302.5" stroke="#333" stroke-width="0.9"/>
<line x1="555.4" y1="251.8" x2="555.4" y2="302.5" stroke="#333" stroke-width="0.9"/>
<line x1="598.3" y1="251.8" x2="598.3" y2="302.5" stroke="#333" stroke-width="0.9"/>
<line x1="641.1" y1="251.8" x2="641.1" y2="302.5" stroke="#333" stroke-width="0.9"/>
<line x1="683.6" y1="251.8" x2="683.6" y2="302.5" stroke="#333" stroke-width="0.9"/>
<text x="384.6" y="261.0" font-size="7.1" font-weight="bold" font-style="normal" text-anchor="middle" fill="#111">HER2-positive</text>
<text x="448.1" y="261.0" font-size="7.1" font-weight="normal" font-style="normal" text-anchor="middle" fill="#222">322</text>
<text x="491.0" y="261.0" font-size="7.1" font-weight="normal" font-style="normal" text-anchor="middle" fill="#222">228</text>
<text x="534.0" y="261.0" font-size="7.1" font-weight="normal" font-style="normal" text-anchor="middle" fill="#222">127</text>
<text x="576.8" y="261.0" font-size="7.1" font-weight="normal" font-style="normal" text-anchor="middle" fill="#222">51</text>
<text x="619.7" y="261.0" font-size="7.1" font-weight="normal" font-style="normal" text-anchor="middle" fill="#222">20</text>
<text x="662.4" y="261.0" font-size="7.1" font-weight="normal" font-style="normal" text-anchor="middle" fill="#222">0</text>
<text x="384.6" y="273.6" font-size="7.1" font-weight="bold" font-style="normal" text-anchor="middle" fill="#111">HER2-low</text>
<text x="448.1" y="273.6" font-size="7.1" font-weight="normal" font-style="normal" text-anchor="middle" fill="#222">572</text>
<text x="491.0" y="273.6" font-size="7.1" font-weight="normal" font-style="normal" text-anchor="middle" fill="#222">299</text>
<text x="534.0" y="273.6" font-size="7.1" font-weight="normal" font-style="normal" text-anchor="middle" fill="#222">71</text>
<text x="576.8" y="273.6" font-size="7.1" font-weight="normal" font-style="normal" text-anchor="middle" fill="#222">17</text>
<text x="619.7" y="273.6" font-size="7.1" font-weight="normal" font-style="normal" text-anchor="middle" fill="#222">6</text>
<text x="662.4" y="273.6" font-size="7.1" font-weight="normal" font-style="normal" text-anchor="middle" fill="#222">2</text>
<text x="384.6" y="286.2" font-size="7.1" font-weight="bold" font-style="normal" text-anchor="middle" fill="#111">HER2-ultra-low</text>
<text x="448.1" y="286.2" font-size="7.1" font-weight="normal" font-style="normal" text-anchor="middle" fill="#222">332</text>
<text x="491.0" y="286.2" font-size="7.1" font-weight="normal" font-style="normal" text-anchor="middle" fill="#222">154</text>
<text x="534.0" y="286.2" font-size="7.1" font-weight="normal" font-style="normal" text-anchor="middle" fill="#222">31</text>
<text x="576.8" y="286.2" font-size="7.1" font-weight="normal" font-style="normal" text-anchor="middle" fill="#222">6</text>
<text x="619.7" y="286.2" font-size="7.1" font-weight="normal" font-style="normal" text-anchor="middle" fill="#222">2</text>
<text x="662.4" y="286.2" font-size="7.1" font-weight="normal" font-style="normal" text-anchor="middle" fill="#222">0</text>
<text x="384.6" y="298.9" font-size="7.1" font-weight="bold" font-style="normal" text-anchor="middle" fill="#111">HER2-null</text>
<text x="448.1" y="298.9" font-size="7.1" font-weight="normal" font-style="normal" text-anchor="middle" fill="#222">332</text>
<text x="491.0" y="298.9" font-size="7.1" font-weight="normal" font-style="normal" text-anchor="middle" fill="#222">124</text>
<text x="534.0" y="298.9" font-size="7.1" font-weight="normal" font-style="normal" text-anchor="middle" fill="#222">20</text>
<text x="576.8" y="298.9" font-size="7.1" font-weight="normal" font-style="normal" text-anchor="middle" fill="#222">1</text>
<text x="619.7" y="298.9" font-size="7.1" font-weight="normal" font-style="normal" text-anchor="middle" fill="#222">0</text>
<text x="662.4" y="298.9" font-size="7.1" font-weight="normal" font-style="normal" text-anchor="middle" fill="#222">0</text>
<text x="15.4" y="341.6" font-size="12" font-weight="bold" font-style="normal" text-anchor="start" fill="#111">c</text>
<text x="219.1" y="340.0" font-size="8.2" font-weight="bold" font-style="normal" text-anchor="middle" fill="#111">Median Overall Survival (OS), First of T-DXd&gt;Last Contact</text>
<text x="219.1" y="349.8" font-size="8.2" font-weight="normal" font-style="normal" text-anchor="middle" fill="#111"><tspan font-style="italic">ABCC1</tspan> Q1-3/HER2-low = 19.3 (16.8 – 23.5) mo.</text>
<text x="219.1" y="359.7" font-size="8.2" font-weight="normal" font-style="normal" text-anchor="middle" fill="#111"><tspan font-style="italic">ABCC1</tspan> Q4/HER2-low = 15.4 (11.7 – 17.3) mo.</text>
<text x="219.1" y="369.5" font-size="8.2" font-weight="normal" font-style="normal" text-anchor="middle" fill="#111"><tspan font-style="italic">ABCC1</tspan> Q1-3/HER2-null = 12.2 (10.2 – 13.8) mo.</text>
<text x="219.1" y="379.3" font-size="8.2" font-weight="normal" font-style="normal" text-anchor="middle" fill="#111"><tspan font-style="italic">ABCC1</tspan> Q4/HER2-null = 8.0 (6.8 – 10.4) mo.</text>
<text x="219.1" y="389.1" font-size="8.2" font-weight="normal" font-style="normal" text-anchor="middle" fill="#111"><tspan font-style="italic">p</tspan>&lt;0.0001</text>
<line x1="105.6" y1="394.6" x2="105.6" y2="567.1" stroke="#555" stroke-width="1"/>
<line x1="105.6" y1="567.1" x2="316.9" y2="567.1" stroke="#555" stroke-width="1"/>
<line x1="105.6" y1="567.1" x2="108.1" y2="567.1" stroke="#555" stroke-width="0.9"/>
<text x="99.5" y="570.0" font-size="8.2" font-weight="bold" font-style="normal" text-anchor="end" fill="#111">0.0</text>
<line x1="105.6" y1="535.9" x2="108.1" y2="535.9" stroke="#555" stroke-width="0.9"/>
<text x="99.5" y="538.8" font-size="8.2" font-weight="bold" font-style="normal" text-anchor="end" fill="#111">0.2</text>
<line x1="105.6" y1="504.7" x2="108.1" y2="504.7" stroke="#555" stroke-width="0.9"/>
<text x="99.5" y="507.6" font-size="8.2" font-weight="bold" font-style="normal" text-anchor="end" fill="#111">0.4</text>
<line x1="105.6" y1="473.5" x2="108.1" y2="473.5" stroke="#555" stroke-width="0.9"/>
<text x="99.5" y="476.4" font-size="8.2" font-weight="bold" font-style="normal" text-anchor="end" fill="#111">0.6</text>
<line x1="105.6" y1="442.3" x2="108.1" y2="442.3" stroke="#555" stroke-width="0.9"/>
<text x="99.5" y="445.2" font-size="8.2" font-weight="bold" font-style="normal" text-anchor="end" fill="#111">0.8</text>
<line x1="105.6" y1="411.1" x2="108.1" y2="411.1" stroke="#555" stroke-width="0.9"/>
<text x="99.5" y="414.0" font-size="8.2" font-weight="bold" font-style="normal" text-anchor="end" fill="#111">1.0</text>
<line x1="105.6" y1="567.1" x2="105.6" y2="564.6" stroke="#555" stroke-width="0.9"/>
<text x="107.0" y="575.9" font-size="8.2" font-weight="bold" font-style="normal" text-anchor="middle" fill="#111">0</text>
<line x1="147.9" y1="567.1" x2="147.9" y2="564.6" stroke="#555" stroke-width="0.9"/>
<text x="148.9" y="575.9" font-size="8.2" font-weight="bold" font-style="normal" text-anchor="middle" fill="#111">10</text>
<line x1="190.1" y1="567.1" x2="190.1" y2="564.6" stroke="#555" stroke-width="0.9"/>
<text x="191.1" y="575.9" font-size="8.2" font-weight="bold" font-style="normal" text-anchor="middle" fill="#111">20</text>
<line x1="232.4" y1="567.1" x2="232.4" y2="564.6" stroke="#555" stroke-width="0.9"/>
<text x="233.4" y="575.9" font-size="8.2" font-weight="bold" font-style="normal" text-anchor="middle" fill="#111">30</text>
<line x1="274.6" y1="567.1" x2="274.6" y2="564.6" stroke="#555" stroke-width="0.9"/>
<text x="275.6" y="575.9" font-size="8.2" font-weight="bold" font-style="normal" text-anchor="middle" fill="#111">40</text>
<line x1="316.9" y1="567.1" x2="316.9" y2="564.6" stroke="#555" stroke-width="0.9"/>
<text x="317.9" y="575.9" font-size="8.2" font-weight="bold" font-style="normal" text-anchor="middle" fill="#111">50</text>
<text x="215.4" y="589.6" font-size="7" font-weight="bold" font-style="normal" text-anchor="middle" fill="#111">OS time (months)</text>
<text x="0" y="0" font-size="7.1" font-weight="bold" text-anchor="middle" fill="#222" transform="translate(81.3,481.5) rotate(-90)">Event-free proportion</text>
<line x1="241.8" y1="402.1" x2="250.9" y2="402.1" stroke="#c0cfe8" stroke-width="1.6"/>
<text x="255.2" y="404.6" font-size="7" font-weight="bold" font-style="normal" text-anchor="start" fill="#111"><tspan font-style="italic">ABCC1</tspan> Q1-3/HER2-low</text>
<line x1="241.8" y1="410.0" x2="250.9" y2="410.0" stroke="#f0c4a8" stroke-width="1.6"/>
<text x="255.2" y="412.5" font-size="7" font-weight="bold" font-style="normal" text-anchor="start" fill="#111"><tspan font-style="italic">ABCC1</tspan> Q4/HER2-low</text>
<line x1="241.8" y1="417.5" x2="250.9" y2="417.5" stroke="#6cbc70" stroke-width="1.1"/>
<text x="255.2" y="420.0" font-size="7" font-weight="bold" font-style="normal" text-anchor="start" fill="#111"><tspan font-style="italic">ABCC1</tspan> Q1-3/HER2-null</text>
<line x1="241.8" y1="425.4" x2="250.9" y2="425.4" stroke="#cc6878" stroke-width="1.1"/>
<text x="255.2" y="427.9" font-size="7" font-weight="bold" font-style="normal" text-anchor="start" fill="#111"><tspan font-style="italic">ABCC1</tspan> Q4/ HER2-null</text>
<line x1="105.6" y1="489.0" x2="187.4" y2="489.0" stroke="#555" stroke-width="0.9" stroke-dasharray="2.5,1.5"/>
<line x1="139.6" y1="489.0" x2="139.6" y2="567.1" stroke="#555" stroke-width="0.9" stroke-dasharray="2.5,1.5"/>
<line x1="157.3" y1="489.0" x2="157.3" y2="567.1" stroke="#555" stroke-width="0.9" stroke-dasharray="2.5,1.5"/>
<line x1="170.6" y1="489.0" x2="170.6" y2="567.1" stroke="#555" stroke-width="0.9" stroke-dasharray="2.5,1.5"/>
<line x1="187.4" y1="489.0" x2="187.4" y2="567.1" stroke="#555" stroke-width="0.9" stroke-dasharray="2.5,1.5"/>
<line x1="162.3" y1="547.4" x2="166.0" y2="547.4" stroke="#808080" stroke-width="1" stroke-dasharray="1,1.5"/>
<polygon points="157.6,547.4 161.8,545.2 161.8,549.6" fill="#7a7a7a"/>
<polygon points="170.2,547.4 166.0,545.2 166.0,549.6" fill="#7a7a7a"/>
<line x1="175.7" y1="547.4" x2="181.3" y2="547.4" stroke="#808080" stroke-width="1" stroke-dasharray="1,1.5"/>
<polygon points="171.0,547.4 175.2,545.2 175.2,549.6" fill="#7a7a7a"/>
<polygon points="185.5,547.4 181.3,545.2 181.3,549.6" fill="#7a7a7a"/>
<line x1="107.8" y1="413.3" x2="107.8" y2="415.9" stroke="#c8495b" stroke-width="0.8"/>
<line x1="113.7" y1="422.8" x2="113.7" y2="425.4" stroke="#c8495b" stroke-width="0.8"/>
<line x1="116.3" y1="428.1" x2="116.3" y2="430.7" stroke="#c8495b" stroke-width="0.8"/>
<line x1="120.6" y1="437.4" x2="120.6" y2="440.0" stroke="#c8495b" stroke-width="0.8"/>
<line x1="124.2" y1="445.2" x2="124.2" y2="447.8" stroke="#c8495b" stroke-width="0.8"/>
<line x1="130.9" y1="459.5" x2="130.9" y2="462.1" stroke="#c8495b" stroke-width="0.8"/>
<line x1="133.6" y1="467.7" x2="133.6" y2="470.3" stroke="#c8495b" stroke-width="0.8"/>
<line x1="139.1" y1="485.3" x2="139.1" y2="487.9" stroke="#c8495b" stroke-width="0.8"/>
<line x1="144.7" y1="495.2" x2="144.7" y2="497.8" stroke="#c8495b" stroke-width="0.8"/>
<line x1="159.6" y1="517.0" x2="159.6" y2="519.6" stroke="#c8495b" stroke-width="0.8"/>
<line x1="182.1" y1="529.3" x2="182.1" y2="531.9" stroke="#c8495b" stroke-width="0.8"/>
<line x1="188.0" y1="529.3" x2="188.0" y2="531.9" stroke="#c8495b" stroke-width="0.8"/>
<line x1="215.1" y1="536.3" x2="215.1" y2="538.9" stroke="#c8495b" stroke-width="0.8"/>
<line x1="208.6" y1="536.3" x2="208.6" y2="538.9" stroke="#c8495b" stroke-width="0.8"/>
<line x1="220.7" y1="536.3" x2="220.7" y2="538.9" stroke="#c8495b" stroke-width="0.8"/>
<line x1="242.3" y1="550.9" x2="242.3" y2="553.5" stroke="#c8495b" stroke-width="0.8"/>
<line x1="242.9" y1="550.9" x2="242.9" y2="553.5" stroke="#c8495b" stroke-width="0.8"/>
<line x1="249.7" y1="550.9" x2="249.7" y2="553.5" stroke="#c8495b" stroke-width="0.8"/>
<polyline points="105.6,411.2 106.4,411.2 106.4,412.3 107.2,412.3 107.2,413.2 107.6,413.2 107.6,414.4 108.6,414.4 108.6,415.7 109.2,415.7 109.2,417.1 110.0,417.1 110.0,417.9 110.6,417.9 110.6,419.4 111.7,419.4 111.7,420.8 112.5,420.8 112.5,421.7 113.0,421.7 113.0,422.6 113.6,422.6 113.6,424.5 114.5,424.5 114.5,425.3 115.1,425.3 115.1,426.9 115.6,426.9 115.6,428.0 116.2,428.0 116.2,429.1 116.8,429.1 116.8,430.5 117.1,430.5 117.1,431.2 117.9,431.2 117.9,432.4 118.2,432.4 118.2,433.7 118.8,433.7 118.8,434.9 119.5,434.9 119.5,436.0 119.9,436.0 119.9,437.2 120.3,437.2 120.3,438.5 120.9,438.5 120.9,439.2 121.6,439.2 121.6,440.9 122.1,440.9 122.1,441.6 122.4,441.6 122.4,443.1 123.1,443.1 123.1,444.2 123.6,444.2 123.6,445.3 124.3,445.3 124.3,446.7 124.8,446.7 124.8,447.7 125.5,447.7 125.5,449.0 126.2,449.0 126.2,449.9 126.7,449.9 126.7,451.6 127.4,451.6 127.4,452.7 127.9,452.7 127.9,453.9 128.4,453.9 128.4,454.9 129.1,454.9 129.1,456.2 129.6,456.2 129.6,457.6 130.0,457.6 130.0,458.6 130.5,458.6 130.5,460.1 131.1,460.1 131.1,461.4 131.5,461.4 131.5,462.6 131.8,462.6 131.8,463.8 132.4,463.8 132.4,465.5 132.6,465.5 132.6,466.1 133.2,466.1 133.2,467.9 133.6,467.9 133.6,469.2 134.0,469.2 134.0,470.3 134.3,470.3 134.3,471.6 134.8,471.6 134.8,472.6 135.3,472.6 135.3,474.1 136.2,474.1 136.2,474.8 136.7,474.8 136.7,476.5 137.4,476.5 137.4,477.9 137.9,477.9 137.9,478.8 138.0,478.8 138.0,480.3 138.3,480.3 138.3,481.0 138.5,481.0 138.5,482.5 138.6,482.5 138.6,484.1 138.9,484.1 138.9,484.8 139.0,484.8 139.0,486.1 139.2,486.1 139.2,487.5 139.4,487.5 139.4,492.3 139.6,492.3 141.8,492.3 141.8,495.3 144.0,495.3 146.1,495.3 146.1,502.5 148.1,502.5 149.1,502.5 149.1,506.0 150.0,506.0 150.6,506.0 150.6,509.7 151.2,509.7 151.8,509.7 151.8,514.7 152.5,514.7 153.1,514.7 153.1,517.8 153.7,517.8 157.4,517.8 157.4,518.4 161.2,518.4 161.8,518.4 161.8,520.6 162.4,520.6 169.9,520.9 170.5,520.9 170.5,524.6 171.1,524.6 172.3,524.6 172.3,527.1 173.6,527.1 175.4,527.1 175.4,527.7 177.3,527.7 177.9,527.7 177.9,530.6 178.6,530.6 196.6,530.6 196.9,530.6 196.9,537.6 197.2,537.6 226.6,537.6 226.8,537.6 226.8,552.2 227.0,552.2 255.2,552.2 255.4,552.2 255.4,567.1 255.6,567.1" fill="none" stroke="#c8495b" stroke-width="0.95" stroke-linejoin="miter"/>
<line x1="107.1" y1="411.7" x2="107.1" y2="414.3" stroke="#5ab55e" stroke-width="0.8"/>
<line x1="113.7" y1="420.0" x2="113.7" y2="422.6" stroke="#5ab55e" stroke-width="0.8"/>
<line x1="117.5" y1="426.8" x2="117.5" y2="429.4" stroke="#5ab55e" stroke-width="0.8"/>
<line x1="125.3" y1="440.5" x2="125.3" y2="443.1" stroke="#5ab55e" stroke-width="0.8"/>
<line x1="128.7" y1="448.5" x2="128.7" y2="451.1" stroke="#5ab55e" stroke-width="0.8"/>
<line x1="131.1" y1="453.7" x2="131.1" y2="456.3" stroke="#5ab55e" stroke-width="0.8"/>
<line x1="137.6" y1="464.3" x2="137.6" y2="466.9" stroke="#5ab55e" stroke-width="0.8"/>
<line x1="146.9" y1="474.3" x2="146.9" y2="476.9" stroke="#5ab55e" stroke-width="0.8"/>
<line x1="219.9" y1="553.9" x2="219.9" y2="556.5" stroke="#5ab55e" stroke-width="0.8"/>
<polyline points="105.6,411.2 106.3,411.2 106.3,412.5 107.6,412.5 107.6,413.2 108.3,413.2 108.3,414.8 109.1,414.8 109.1,415.7 110.0,415.7 110.0,416.7 110.9,416.7 110.9,418.1 112.1,418.1 112.1,418.8 112.9,418.8 112.9,420.7 113.7,420.7 113.7,421.5 114.9,421.5 114.9,422.9 115.6,422.9 115.6,423.8 116.4,423.8 116.4,425.1 116.8,425.1 116.8,426.4 117.5,426.4 117.5,428.0 118.0,428.0 118.0,429.1 118.7,429.1 118.7,430.4 119.2,430.4 119.2,431.8 119.8,431.8 119.8,432.5 120.0,432.5 120.0,433.7 120.5,433.7 120.5,435.3 121.1,435.3 121.1,436.6 121.9,436.6 121.9,437.9 123.0,437.9 123.0,438.9 123.9,438.9 123.9,440.4 125.2,440.4 125.2,441.5 126.1,441.5 126.1,442.8 126.5,442.8 126.5,444.2 127.1,444.2 127.1,445.2 127.4,445.2 127.4,446.3 127.9,446.3 127.9,447.4 128.3,447.4 128.3,449.1 128.9,449.1 128.9,450.3 129.4,450.3 129.4,451.4 129.8,451.4 129.8,452.7 130.6,452.7 130.6,453.6 131.2,453.6 131.2,455.2 132.1,455.2 132.1,456.4 132.8,456.4 132.8,457.5 133.3,457.5 133.3,458.6 134.3,458.6 134.3,460.4 134.8,460.4 134.8,461.4 135.4,461.4 135.4,462.7 136.5,462.7 136.5,463.9 137.5,463.9 137.5,465.3 138.0,465.3 138.0,466.6 138.8,466.6 138.8,467.4 139.8,467.4 139.8,468.9 140.9,468.9 140.9,470.0 142.2,470.0 142.2,470.9 143.2,470.9 143.2,471.8 144.8,471.8 144.8,472.6 145.4,472.6 145.4,473.7 146.6,473.7 146.6,474.7 147.4,474.7 147.4,475.7 148.0,475.7 148.0,477.0 149.0,477.0 149.0,478.0 149.7,478.0 149.7,479.4 150.0,479.3 151.8,479.3 151.8,484.8 153.7,484.8 155.6,484.8 155.6,489.8 157.5,489.8 158.7,489.8 158.7,493.5 159.9,493.5 161.2,493.5 161.2,497.3 162.4,497.3 164.2,497.3 164.2,502.2 166.1,502.2 168.0,502.2 168.0,504.7 169.9,504.7 170.8,504.7 170.8,507.8 171.7,507.8 173.2,507.8 173.2,512.2 174.8,512.2 176.7,512.2 176.7,517.1 178.6,517.1 180.4,517.1 180.4,520.9 182.3,520.9 183.9,520.9 183.9,523.6 185.4,523.6 188.8,523.6 188.8,524.0 192.2,524.0 194.1,524.0 194.1,524.6 196.0,524.6 196.3,524.6 196.3,527.7 196.6,527.7 198.8,527.7 198.8,528.1 200.9,528.1 201.6,528.1 201.6,530.8 202.2,530.8 203.1,530.8 203.1,534.5 204.0,534.5 204.3,534.5 204.3,540.0 204.7,540.0 205.1,540.0 205.1,543.4 205.4,543.4 210.5,543.4 210.5,555.2 223.3,555.2 223.3,567.1" fill="none" stroke="#5ab55e" stroke-width="0.95" stroke-linejoin="miter"/>
<line x1="106.2" y1="410.7" x2="106.2" y2="413.3" stroke="#e07a3e" stroke-width="0.8"/>
<line x1="116.5" y1="422.6" x2="116.5" y2="425.2" stroke="#e07a3e" stroke-width="0.8"/>
<line x1="118.3" y1="424.3" x2="118.3" y2="426.9" stroke="#e07a3e" stroke-width="0.8"/>
<line x1="127.4" y1="431.5" x2="127.4" y2="434.1" stroke="#e07a3e" stroke-width="0.8"/>
<line x1="132.1" y1="442.5" x2="132.1" y2="445.1" stroke="#e07a3e" stroke-width="0.8"/>
<line x1="144.8" y1="455.2" x2="144.8" y2="457.8" stroke="#e07a3e" stroke-width="0.8"/>
<line x1="149.6" y1="464.9" x2="149.6" y2="467.5" stroke="#e07a3e" stroke-width="0.8"/>
<line x1="181.9" y1="505.9" x2="181.9" y2="508.5" stroke="#e07a3e" stroke-width="0.8"/>
<line x1="189.9" y1="505.9" x2="189.9" y2="508.5" stroke="#e07a3e" stroke-width="0.8"/>
<line x1="205.5" y1="510.9" x2="205.5" y2="513.5" stroke="#e07a3e" stroke-width="0.8"/>
<line x1="222.3" y1="516.5" x2="222.3" y2="519.1" stroke="#e07a3e" stroke-width="0.8"/>
<line x1="237.7" y1="535.4" x2="237.7" y2="538.0" stroke="#e07a3e" stroke-width="0.8"/>
<line x1="284.0" y1="549.6" x2="284.0" y2="552.2" stroke="#e07a3e" stroke-width="0.8"/>
<line x1="277.2" y1="549.6" x2="277.2" y2="552.2" stroke="#e07a3e" stroke-width="0.8"/>
<line x1="299.8" y1="549.6" x2="299.8" y2="552.2" stroke="#e07a3e" stroke-width="0.8"/>
<line x1="273.2" y1="549.6" x2="273.2" y2="552.2" stroke="#e07a3e" stroke-width="0.8"/>
<line x1="305.0" y1="549.6" x2="305.0" y2="552.2" stroke="#e07a3e" stroke-width="0.8"/>
<line x1="274.2" y1="549.6" x2="274.2" y2="552.2" stroke="#e07a3e" stroke-width="0.8"/>
<line x1="271.0" y1="549.6" x2="271.0" y2="552.2" stroke="#e07a3e" stroke-width="0.8"/>
<polyline points="105.6,411.2 106.6,411.2 106.6,412.1 107.4,412.1 107.4,413.5 108.6,413.5 108.6,414.7 109.8,414.7 109.8,416.3 110.4,416.3 110.4,417.7 111.7,417.7 111.7,418.8 112.5,418.8 112.5,419.8 113.6,419.8 113.6,420.9 115.2,420.9 115.2,422.6 116.0,422.6 116.0,423.6 117.4,423.6 117.4,424.8 118.8,424.8 118.8,426.0 120.0,426.0 120.0,427.5 121.5,427.5 121.5,428.6 122.4,428.6 122.4,429.7 123.9,429.7 123.9,430.5 124.9,430.5 124.9,431.2 126.3,431.2 126.3,431.9 127.4,431.9 127.4,432.8 127.9,432.8 127.9,433.9 128.2,433.9 128.2,435.0 128.9,435.0 128.9,436.2 129.2,436.2 129.2,437.5 129.6,437.5 129.6,439.2 130.1,439.2 130.1,440.4 130.8,440.4 130.8,441.7 131.1,441.7 131.1,442.8 132.5,442.8 132.5,443.9 133.3,443.9 133.3,445.5 134.9,445.5 134.9,446.8 136.1,446.8 136.1,447.8 137.6,447.8 137.6,449.3 138.2,449.3 138.2,450.6 140.0,450.6 140.0,451.2 141.0,451.2 141.0,452.7 142.0,452.7 142.0,454.2 143.2,454.2 143.2,455.4 144.4,455.4 144.4,456.6 146.0,456.6 146.0,457.7 146.6,457.7 146.6,458.7 147.1,458.7 147.1,460.1 147.5,460.1 147.5,461.4 148.0,461.4 148.0,462.3 148.5,462.3 148.5,463.7 149.3,463.7 149.3,465.0 149.7,465.0 149.7,466.4 150.0,466.2 150.9,466.2 150.9,467.3 151.6,467.3 151.6,469.0 152.5,469.0 152.5,469.9 153.3,469.9 153.3,471.3 154.3,471.3 154.3,472.1 155.0,472.1 155.0,473.7 155.8,473.7 155.8,475.1 156.6,475.1 156.6,476.1 157.5,476.1 157.5,477.4 158.9,477.4 158.9,478.1 160.0,478.1 160.0,479.2 161.2,479.2 161.2,479.9 162.4,479.9 162.4,480.5 163.7,480.5 164.9,480.5 164.9,483.0 166.1,483.0 167.3,483.0 167.3,484.2 168.6,484.2 169.6,484.2 169.6,488.0 170.5,488.0 171.4,488.0 171.4,493.5 172.4,493.5 173.6,493.5 173.6,496.0 174.8,496.0 175.4,496.0 175.4,498.5 176.1,498.5 177.1,498.5 177.1,502.9 178.0,502.9 178.9,502.9 178.9,507.2 179.8,507.2 200.3,507.2 200.6,507.2 200.6,512.2 200.9,512.2 210.2,512.2 210.6,512.2 210.6,517.8 210.9,517.8 226.4,517.8 226.7,517.8 226.7,524.4 227.0,524.4 227.6,524.4 229.1,524.4 229.1,525.4 230.7,525.4 231.2,525.4 231.2,530.5 231.7,530.5 233.2,530.5 233.2,531.5 234.7,531.5 235.2,531.5 235.2,536.6 235.8,536.6 240.9,536.6 240.9,537.3 246.0,537.3 246.5,537.3 246.5,542.8 247.0,542.8 254.8,542.8 255.0,542.8 255.0,550.9 255.2,550.9 313.4,550.9" fill="none" stroke="#e07a3e" stroke-width="0.95" stroke-linejoin="miter"/>
<line x1="107.8" y1="412.6" x2="107.8" y2="415.2" stroke="#4a72c2" stroke-width="0.8"/>
<line x1="123.5" y1="428.9" x2="123.5" y2="431.5" stroke="#4a72c2" stroke-width="0.8"/>
<line x1="123.8" y1="429.3" x2="123.8" y2="431.9" stroke="#4a72c2" stroke-width="0.8"/>
<line x1="133.2" y1="436.4" x2="133.2" y2="439.0" stroke="#4a72c2" stroke-width="0.8"/>
<line x1="136.9" y1="440.0" x2="136.9" y2="442.6" stroke="#4a72c2" stroke-width="0.8"/>
<line x1="145.8" y1="448.6" x2="145.8" y2="451.2" stroke="#4a72c2" stroke-width="0.8"/>
<line x1="151.9" y1="456.0" x2="151.9" y2="458.6" stroke="#4a72c2" stroke-width="0.8"/>
<line x1="155.4" y1="458.3" x2="155.4" y2="460.9" stroke="#4a72c2" stroke-width="0.8"/>
<line x1="158.9" y1="460.9" x2="158.9" y2="463.5" stroke="#4a72c2" stroke-width="0.8"/>
<line x1="172.5" y1="474.6" x2="172.5" y2="477.2" stroke="#4a72c2" stroke-width="0.8"/>
<line x1="197.5" y1="492.0" x2="197.5" y2="494.6" stroke="#4a72c2" stroke-width="0.8"/>
<line x1="226.7" y1="510.8" x2="226.7" y2="513.4" stroke="#4a72c2" stroke-width="0.8"/>
<line x1="223.7" y1="510.8" x2="223.7" y2="513.4" stroke="#4a72c2" stroke-width="0.8"/>
<line x1="243.1" y1="515.5" x2="243.1" y2="518.1" stroke="#4a72c2" stroke-width="0.8"/>
<line x1="257.1" y1="522.1" x2="257.1" y2="524.7" stroke="#4a72c2" stroke-width="0.8"/>
<line x1="265.1" y1="528.2" x2="265.1" y2="530.8" stroke="#4a72c2" stroke-width="0.8"/>
<line x1="273.5" y1="534.5" x2="273.5" y2="537.1" stroke="#4a72c2" stroke-width="0.8"/>
<line x1="287.8" y1="540.9" x2="287.8" y2="543.5" stroke="#4a72c2" stroke-width="0.8"/>
<line x1="297.0" y1="547.0" x2="297.0" y2="549.6" stroke="#4a72c2" stroke-width="0.8"/>
<line x1="307.1" y1="547.0" x2="307.1" y2="549.6" stroke="#4a72c2" stroke-width="0.8"/>
<line x1="300.9" y1="547.0" x2="300.9" y2="549.6" stroke="#4a72c2" stroke-width="0.8"/>
<polyline points="105.6,411.2 106.6,411.2 106.6,412.0 107.4,412.0 107.4,413.6 108.0,413.6 108.0,414.6 109.2,414.6 109.2,415.8 110.0,415.8 110.0,416.7 111.3,416.7 111.3,417.4 112.3,417.4 112.3,418.4 113.6,418.4 113.6,418.8 114.9,418.8 114.9,419.8 116.4,419.8 116.4,420.7 117.0,420.7 117.0,422.2 118.4,422.2 118.4,423.0 119.9,423.0 119.9,424.1 120.6,424.1 120.6,425.4 121.6,425.4 121.6,426.8 122.0,426.8 122.0,428.1 122.8,428.1 122.8,429.3 123.6,429.3 123.6,430.4 124.7,430.4 124.7,431.3 126.0,431.3 126.0,432.2 127.1,432.2 127.1,432.8 128.8,432.8 128.8,433.8 129.8,433.8 129.8,434.7 131.3,434.7 131.3,436.1 132.4,436.1 132.4,436.8 133.3,436.8 133.3,437.9 134.8,437.9 134.8,439.0 136.1,439.0 136.1,440.3 137.2,440.3 137.2,441.4 138.3,441.4 138.3,442.7 138.8,442.7 138.8,444.0 139.8,444.0 139.8,445.0 141.0,445.0 141.0,446.5 142.1,446.5 142.1,447.2 143.2,447.2 143.2,448.5 145.1,448.5 145.1,448.9 146.1,448.9 146.1,450.0 147.2,450.0 147.2,450.9 148.3,450.9 148.3,452.1 149.0,452.1 149.0,452.9 149.8,452.9 149.8,454.1 150.5,454.1 150.5,455.4 151.2,455.4 151.2,456.2 152.2,456.2 152.2,457.7 153.4,457.7 153.4,458.5 154.9,458.5 154.9,459.2 156.1,459.2 156.1,459.8 157.2,459.8 157.2,460.7 158.4,460.7 158.4,461.4 159.2,461.4 159.2,462.8 160.2,462.8 160.2,463.8 161.1,463.8 161.1,464.9 161.7,464.9 161.7,466.6 162.6,466.6 162.6,467.9 163.4,467.9 163.4,468.9 164.8,468.9 164.8,469.6 166.0,469.6 166.0,470.1 167.4,470.1 167.4,470.7 168.5,470.7 168.5,471.4 169.6,471.4 169.6,472.0 170.2,472.0 170.2,473.0 171.2,473.0 171.2,474.2 172.2,474.2 172.2,475.4 173.0,475.4 173.0,476.6 173.8,476.6 173.8,477.6 174.6,477.6 174.6,478.8 176.0,478.8 176.0,479.8 177.4,479.8 177.4,480.8 178.0,480.8 178.0,481.5 179.5,481.5 179.5,482.5 180.8,482.5 180.8,487.5 182.0,487.5 183.4,487.5 183.4,488.2 184.9,488.2 186.4,488.2 186.4,491.2 188.0,491.2 189.6,491.2 189.6,493.3 191.1,493.3 203.1,493.3 203.6,493.3 203.6,497.8 204.1,497.8 204.6,497.8 204.6,501.9 205.1,501.9 206.6,501.9 206.6,503.9 208.2,503.9 209.2,503.9 209.2,507.0 210.2,507.0 211.2,507.0 211.2,510.1 212.3,510.1 213.3,510.1 213.3,512.1 214.3,512.1 232.7,512.1 233.2,512.1 233.2,516.8 233.7,516.8 249.0,516.8 249.6,516.8 249.6,523.4 250.1,523.4 259.3,523.4 259.8,523.4 259.8,529.5 260.3,529.5 269.5,529.5 270.0,529.5 270.0,535.6 270.5,535.6 274.1,535.6 274.1,536.0 277.7,536.0 277.7,542.2 289.5,542.2 289.7,542.2 289.7,548.3 289.9,548.3 316.5,548.3" fill="none" stroke="#4a72c2" stroke-width="1.15" stroke-linejoin="miter"/>
<line x1="0.7" y1="592.6" x2="342.2" y2="592.6" stroke="#333" stroke-width="0.9"/>
<line x1="0.7" y1="605.4" x2="342.2" y2="605.4" stroke="#333" stroke-width="0.9"/>
<line x1="0.7" y1="618.2" x2="342.2" y2="618.2" stroke="#333" stroke-width="0.9"/>
<line x1="0.7" y1="630.6" x2="342.2" y2="630.6" stroke="#333" stroke-width="0.9"/>
<line x1="0.7" y1="643.1" x2="342.2" y2="643.1" stroke="#333" stroke-width="0.9"/>
<line x1="0.7" y1="592.6" x2="0.7" y2="643.1" stroke="#333" stroke-width="0.9"/>
<line x1="92.6" y1="592.6" x2="92.6" y2="643.1" stroke="#333" stroke-width="0.9"/>
<line x1="129.0" y1="592.6" x2="129.0" y2="643.1" stroke="#333" stroke-width="0.9"/>
<line x1="171.4" y1="592.6" x2="171.4" y2="643.1" stroke="#333" stroke-width="0.9"/>
<line x1="214.1" y1="592.6" x2="214.1" y2="643.1" stroke="#333" stroke-width="0.9"/>
<line x1="256.5" y1="592.6" x2="256.5" y2="643.1" stroke="#333" stroke-width="0.9"/>
<line x1="299.4" y1="592.6" x2="299.4" y2="643.1" stroke="#333" stroke-width="0.9"/>
<line x1="342.2" y1="592.6" x2="342.2" y2="643.1" stroke="#333" stroke-width="0.9"/>
<text x="5.0" y="601.9" font-size="7.1" font-weight="bold" font-style="normal" text-anchor="start" fill="#111"><tspan font-style="italic">ABCC1</tspan> Q1-3/HER2-low</text>
<text x="110.8" y="601.9" font-size="7.1" font-weight="normal" font-style="normal" text-anchor="middle" fill="#222">435</text>
<text x="150.2" y="601.9" font-size="7.1" font-weight="normal" font-style="normal" text-anchor="middle" fill="#222">226</text>
<text x="192.8" y="601.9" font-size="7.1" font-weight="normal" font-style="normal" text-anchor="middle" fill="#222">54</text>
<text x="235.3" y="601.9" font-size="7.1" font-weight="normal" font-style="normal" text-anchor="middle" fill="#222">11</text>
<text x="277.9" y="601.9" font-size="7.1" font-weight="normal" font-style="normal" text-anchor="middle" fill="#222">5</text>
<text x="320.8" y="601.9" font-size="7.1" font-weight="normal" font-style="normal" text-anchor="middle" fill="#222">2</text>
<text x="5.0" y="614.7" font-size="7.1" font-weight="bold" font-style="normal" text-anchor="start" fill="#111"><tspan font-style="italic">ABCC1</tspan> Q4/HER2-low</text>
<text x="110.8" y="614.7" font-size="7.1" font-weight="normal" font-style="normal" text-anchor="middle" fill="#222">137</text>
<text x="150.2" y="614.7" font-size="7.1" font-weight="normal" font-style="normal" text-anchor="middle" fill="#222">73</text>
<text x="192.8" y="614.7" font-size="7.1" font-weight="normal" font-style="normal" text-anchor="middle" fill="#222">17</text>
<text x="235.3" y="614.7" font-size="7.1" font-weight="normal" font-style="normal" text-anchor="middle" fill="#222">6</text>
<text x="277.9" y="614.7" font-size="7.1" font-weight="normal" font-style="normal" text-anchor="middle" fill="#222">1</text>
<text x="320.8" y="614.7" font-size="7.1" font-weight="normal" font-style="normal" text-anchor="middle" fill="#222">0</text>
<text x="5.0" y="627.3" font-size="7.1" font-weight="bold" font-style="normal" text-anchor="start" fill="#111"><tspan font-style="italic">ABCC1</tspan> Q1-3/HER2-null</text>
<text x="110.8" y="627.3" font-size="7.1" font-weight="normal" font-style="normal" text-anchor="middle" fill="#222">240</text>
<text x="150.2" y="627.3" font-size="7.1" font-weight="normal" font-style="normal" text-anchor="middle" fill="#222">98</text>
<text x="192.8" y="627.3" font-size="7.1" font-weight="normal" font-style="normal" text-anchor="middle" fill="#222">15</text>
<text x="235.3" y="627.3" font-size="7.1" font-weight="normal" font-style="normal" text-anchor="middle" fill="#222">6</text>
<text x="277.9" y="627.3" font-size="7.1" font-weight="normal" font-style="normal" text-anchor="middle" fill="#222">1</text>
<text x="320.8" y="627.3" font-size="7.1" font-weight="normal" font-style="normal" text-anchor="middle" fill="#222">0</text>
<text x="5.0" y="639.8" font-size="7.1" font-weight="bold" font-style="normal" text-anchor="start" fill="#111"><tspan font-style="italic">ABCC1</tspan> Q4/ HER2-null</text>
<text x="110.8" y="639.8" font-size="7.1" font-weight="normal" font-style="normal" text-anchor="middle" fill="#222">92</text>
<text x="150.2" y="639.8" font-size="7.1" font-weight="normal" font-style="normal" text-anchor="middle" fill="#222">26</text>
<text x="192.8" y="639.8" font-size="7.1" font-weight="normal" font-style="normal" text-anchor="middle" fill="#222">5</text>
<text x="235.3" y="639.8" font-size="7.1" font-weight="normal" font-style="normal" text-anchor="middle" fill="#222">1</text>
<text x="277.9" y="639.8" font-size="7.1" font-weight="normal" font-style="normal" text-anchor="middle" fill="#222">0</text>
<text x="320.8" y="639.8" font-size="7.1" font-weight="normal" font-style="normal" text-anchor="middle" fill="#222">0</text>
<text x="346.7" y="341.6" font-size="12" font-weight="bold" font-style="normal" text-anchor="start" fill="#111">d</text>
<text x="568.3" y="340.0" font-size="8.2" font-weight="bold" font-style="normal" text-anchor="middle" fill="#111">Median Overall Survival (OS), First of T-DXd&gt;Last Contact</text>
<text x="568.3" y="349.8" font-size="8.2" font-weight="normal" font-style="normal" text-anchor="middle" fill="#111"><tspan font-style="italic">ABCC1</tspan> Q1-3/<tspan font-style="italic">ERBB2</tspan> Q4 = 27.9 (23.4 – 36.8) mo.</text>
<text x="568.3" y="359.7" font-size="8.2" font-weight="normal" font-style="normal" text-anchor="middle" fill="#111"><tspan font-style="italic">ABCC1</tspan> Q4/<tspan font-style="italic">ERBB2</tspan> Q4 = 23.4 (16.3 – 24.9) mo.</text>
<text x="568.3" y="369.5" font-size="8.2" font-weight="normal" font-style="normal" text-anchor="middle" fill="#111"><tspan font-style="italic">ABCC1</tspan> Q1-3/<tspan font-style="italic">ERBB2</tspan> Q1-3 = 15.7 (13.8 – 16.8) mo.</text>
<text x="568.3" y="379.3" font-size="8.2" font-weight="normal" font-style="normal" text-anchor="middle" fill="#111"><tspan font-style="italic">ABCC1</tspan> Q4/<tspan font-style="italic">ERBB2</tspan> Q1-3 = 11.2 (10.0 – 12.7) mo.</text>
<text x="568.3" y="389.1" font-size="8.2" font-weight="normal" font-style="normal" text-anchor="middle" fill="#111"><tspan font-style="italic">p</tspan>&lt;0.0001</text>
<line x1="461.0" y1="400.2" x2="461.0" y2="564.0" stroke="#555" stroke-width="1"/>
<line x1="461.0" y1="564.0" x2="669.7" y2="564.0" stroke="#555" stroke-width="1"/>
<line x1="461.0" y1="564.0" x2="463.5" y2="564.0" stroke="#555" stroke-width="0.9"/>
<text x="457.5" y="566.9" font-size="8.2" font-weight="bold" font-style="normal" text-anchor="end" fill="#111">0.0</text>
<line x1="461.0" y1="532.6" x2="463.5" y2="532.6" stroke="#555" stroke-width="0.9"/>
<text x="457.5" y="535.5" font-size="8.2" font-weight="bold" font-style="normal" text-anchor="end" fill="#111">0.2</text>
<line x1="461.0" y1="501.2" x2="463.5" y2="501.2" stroke="#555" stroke-width="0.9"/>
<text x="457.5" y="504.1" font-size="8.2" font-weight="bold" font-style="normal" text-anchor="end" fill="#111">0.4</text>
<line x1="461.0" y1="469.8" x2="463.5" y2="469.8" stroke="#555" stroke-width="0.9"/>
<text x="457.5" y="472.7" font-size="8.2" font-weight="bold" font-style="normal" text-anchor="end" fill="#111">0.6</text>
<line x1="461.0" y1="438.4" x2="463.5" y2="438.4" stroke="#555" stroke-width="0.9"/>
<text x="457.5" y="441.3" font-size="8.2" font-weight="bold" font-style="normal" text-anchor="end" fill="#111">0.8</text>
<line x1="461.0" y1="407.0" x2="463.5" y2="407.0" stroke="#555" stroke-width="0.9"/>
<text x="457.5" y="409.9" font-size="8.2" font-weight="bold" font-style="normal" text-anchor="end" fill="#111">1.0</text>
<line x1="472.4" y1="564.0" x2="472.4" y2="561.5" stroke="#555" stroke-width="0.9"/>
<text x="472.4" y="574.0" font-size="8.2" font-weight="bold" font-style="normal" text-anchor="middle" fill="#111">0</text>
<line x1="508.3" y1="564.0" x2="508.3" y2="561.5" stroke="#555" stroke-width="0.9"/>
<text x="508.3" y="574.0" font-size="8.2" font-weight="bold" font-style="normal" text-anchor="middle" fill="#111">10</text>
<line x1="544.1" y1="564.0" x2="544.1" y2="561.5" stroke="#555" stroke-width="0.9"/>
<text x="544.1" y="574.0" font-size="8.2" font-weight="bold" font-style="normal" text-anchor="middle" fill="#111">20</text>
<line x1="580.0" y1="564.0" x2="580.0" y2="561.5" stroke="#555" stroke-width="0.9"/>
<text x="580.0" y="574.0" font-size="8.2" font-weight="bold" font-style="normal" text-anchor="middle" fill="#111">30</text>
<line x1="615.8" y1="564.0" x2="615.8" y2="561.5" stroke="#555" stroke-width="0.9"/>
<text x="615.8" y="574.0" font-size="8.2" font-weight="bold" font-style="normal" text-anchor="middle" fill="#111">40</text>
<line x1="651.7" y1="564.0" x2="651.7" y2="561.5" stroke="#555" stroke-width="0.9"/>
<text x="651.7" y="574.0" font-size="8.2" font-weight="bold" font-style="normal" text-anchor="middle" fill="#111">50</text>
<text x="578.9" y="585.5" font-size="7" font-weight="bold" font-style="normal" text-anchor="middle" fill="#111">OS time (months)</text>
<text x="0" y="0" font-size="7.1" font-weight="bold" text-anchor="middle" fill="#222" transform="translate(434.4,473.1) rotate(-90)">Event-free proportion</text>
<line x1="563.4" y1="408.5" x2="577.9" y2="408.5" stroke="#4a70b8" stroke-width="1.1"/>
<text x="582.2" y="411.0" font-size="7" font-weight="bold" font-style="normal" text-anchor="start" fill="#111"><tspan font-style="italic">ABCC1</tspan> Q1-3/<tspan font-style="italic">ERBB2</tspan> Q4</text>
<line x1="563.4" y1="418.4" x2="577.9" y2="418.4" stroke="#e08a55" stroke-width="1.1"/>
<text x="582.2" y="420.9" font-size="7" font-weight="bold" font-style="normal" text-anchor="start" fill="#111"><tspan font-style="italic">ABCC1</tspan> Q4/<tspan font-style="italic">ERBB2</tspan> Q4</text>
<line x1="563.4" y1="428.0" x2="577.9" y2="428.0" stroke="#b2dcb4" stroke-width="1.6"/>
<text x="582.2" y="430.5" font-size="7" font-weight="bold" font-style="normal" text-anchor="start" fill="#111"><tspan font-style="italic">ABCC1</tspan> Q1-3/<tspan font-style="italic">ERBB2</tspan> Q1-3</text>
<line x1="563.4" y1="437.9" x2="577.9" y2="437.9" stroke="#dc9aa6" stroke-width="1.6"/>
<text x="582.2" y="440.4" font-size="7" font-weight="bold" font-style="normal" text-anchor="start" fill="#111"><tspan font-style="italic">ABCC1</tspan> Q4/ <tspan font-style="italic">ERBB2</tspan> Q1-3</text>
<line x1="461.0" y1="485.1" x2="572.2" y2="485.1" stroke="#555" stroke-width="0.9" stroke-dasharray="2.5,1.5"/>
<line x1="512.7" y1="485.1" x2="512.7" y2="564.0" stroke="#555" stroke-width="0.9" stroke-dasharray="2.5,1.5"/>
<line x1="528.8" y1="485.1" x2="528.8" y2="564.0" stroke="#555" stroke-width="0.9" stroke-dasharray="2.5,1.5"/>
<line x1="556.9" y1="485.1" x2="556.9" y2="564.0" stroke="#555" stroke-width="0.9" stroke-dasharray="2.5,1.5"/>
<line x1="572.2" y1="485.1" x2="572.2" y2="564.0" stroke="#555" stroke-width="0.9" stroke-dasharray="2.5,1.5"/>
<line x1="517.6" y1="542.8" x2="521.6" y2="542.8" stroke="#808080" stroke-width="1" stroke-dasharray="1,1.5"/>
<polygon points="512.9,542.8 517.1,540.6 517.1,545.0" fill="#7a7a7a"/>
<polygon points="525.8,542.8 521.6,540.6 521.6,545.0" fill="#7a7a7a"/>
<line x1="535.1" y1="547.3" x2="550.6" y2="547.3" stroke="#808080" stroke-width="1" stroke-dasharray="1,1.5"/>
<polygon points="530.4,547.3 534.6,545.1 534.6,549.5" fill="#7a7a7a"/>
<polygon points="554.8,547.3 550.6,545.1 550.6,549.5" fill="#7a7a7a"/>
<line x1="563.3" y1="555.0" x2="567.6" y2="555.0" stroke="#808080" stroke-width="1" stroke-dasharray="1,1.5"/>
<polygon points="558.6,555.0 562.8,552.8 562.8,557.2" fill="#7a7a7a"/>
<polygon points="571.8,555.0 567.6,552.8 567.6,557.2" fill="#7a7a7a"/>
<line x1="473.3" y1="409.5" x2="473.3" y2="412.1" stroke="#c8495b" stroke-width="0.8"/>
<line x1="480.3" y1="418.6" x2="480.3" y2="421.2" stroke="#c8495b" stroke-width="0.8"/>
<line x1="487.2" y1="428.5" x2="487.2" y2="431.1" stroke="#c8495b" stroke-width="0.8"/>
<line x1="492.4" y1="440.7" x2="492.4" y2="443.3" stroke="#c8495b" stroke-width="0.8"/>
<line x1="494.6" y1="445.6" x2="494.6" y2="448.2" stroke="#c8495b" stroke-width="0.8"/>
<line x1="502.6" y1="460.3" x2="502.6" y2="462.9" stroke="#c8495b" stroke-width="0.8"/>
<line x1="505.3" y1="465.3" x2="505.3" y2="467.9" stroke="#c8495b" stroke-width="0.8"/>
<line x1="509.7" y1="474.9" x2="509.7" y2="477.5" stroke="#c8495b" stroke-width="0.8"/>
<line x1="512.4" y1="481.9" x2="512.4" y2="484.5" stroke="#c8495b" stroke-width="0.8"/>
<line x1="522.4" y1="496.5" x2="522.4" y2="499.1" stroke="#c8495b" stroke-width="0.8"/>
<line x1="548.9" y1="517.5" x2="548.9" y2="520.1" stroke="#c8495b" stroke-width="0.8"/>
<line x1="566.9" y1="526.1" x2="566.9" y2="528.7" stroke="#c8495b" stroke-width="0.8"/>
<line x1="569.2" y1="526.1" x2="569.2" y2="528.7" stroke="#c8495b" stroke-width="0.8"/>
<line x1="585.8" y1="543.3" x2="585.8" y2="545.9" stroke="#c8495b" stroke-width="0.8"/>
<line x1="603.8" y1="555.3" x2="603.8" y2="557.9" stroke="#c8495b" stroke-width="0.8"/>
<polyline points="470.3,407.0 471.5,407.0 471.5,408.2 472.1,408.2 472.1,409.1 473.6,409.1 473.6,410.7 474.2,410.7 474.2,412.0 475.0,412.0 475.0,413.4 476.2,413.4 476.2,414.4 477.3,414.4 477.3,415.8 478.1,415.8 478.1,416.9 478.9,416.9 478.9,418.0 480.1,418.0 480.1,419.1 481.0,419.1 481.0,420.8 481.7,420.8 481.7,422.0 482.4,422.0 482.4,423.1 483.6,423.1 483.6,424.2 484.3,424.2 484.3,425.4 485.1,425.4 485.1,426.7 485.7,426.7 485.7,427.6 486.7,427.6 486.7,428.6 487.2,428.6 487.2,429.9 488.1,429.9 488.1,430.8 488.9,430.8 488.9,432.4 489.5,432.4 489.5,433.3 489.9,433.3 489.9,434.6 490.4,434.6 490.4,435.5 490.6,435.5 490.6,436.6 491.0,436.6 491.0,437.8 491.4,437.8 491.4,439.1 491.8,439.1 491.8,440.2 492.1,440.2 492.1,441.6 492.5,441.6 492.5,442.7 493.0,442.7 493.0,443.8 493.5,443.8 493.5,445.2 494.3,445.2 494.3,446.2 494.9,446.2 494.9,447.0 495.2,447.0 495.2,448.1 496.1,448.1 496.1,449.9 496.7,449.9 496.7,450.9 497.2,450.9 497.2,451.8 497.6,451.8 497.6,452.9 498.3,452.9 498.3,454.3 498.9,454.3 498.9,455.8 499.7,455.8 499.7,456.6 500.7,456.6 500.7,458.4 501.2,458.4 501.2,459.4 501.9,459.4 501.9,460.8 502.9,460.8 502.9,462.0 503.5,462.0 503.5,463.1 504.3,463.1 504.3,464.5 504.9,464.5 504.9,465.5 505.5,465.5 505.5,467.1 505.9,467.1 505.9,468.1 506.7,468.1 506.7,469.1 507.3,469.1 507.3,470.4 507.9,470.4 507.9,471.8 508.3,471.8 508.3,473.1 508.9,473.1 508.9,474.3 509.3,474.3 509.3,475.8 509.9,475.8 509.9,476.5 510.3,476.5 510.3,478.3 510.9,478.3 510.9,479.3 511.4,479.3 511.4,480.6 511.9,480.6 511.9,481.9 512.3,481.9 512.3,483.1 512.8,483.1 512.8,483.9 513.1,483.9 513.1,485.5 513.6,485.5 513.6,486.7 514.1,486.7 514.1,488.1 514.4,488.1 514.4,488.9 514.9,488.9 514.9,490.2 516.3,490.2 516.3,491.8 517.1,491.8 517.1,492.5 518.2,492.5 518.2,494.3 519.3,494.3 519.3,495.5 520.6,495.5 520.6,496.4 521.6,496.4 521.6,497.3 523.2,497.3 523.2,498.3 524.1,498.3 524.1,498.9 525.4,498.9 525.4,500.0 526.4,500.0 526.4,500.4 527.4,500.4 527.4,505.5 528.4,505.5 530.0,505.5 530.0,509.6 531.5,509.6 533.5,509.6 533.5,514.7 535.6,514.7 537.7,514.7 537.7,517.8 539.7,517.8 544.4,517.8 544.4,518.8 549.1,518.8 550.7,518.8 550.7,523.9 552.2,523.9 553.2,523.9 553.2,527.4 554.2,527.4 574.6,527.4 575.2,527.4 575.2,533.1 575.7,533.1 576.7,533.1 576.7,537.2 577.7,537.2 579.2,537.2 579.2,539.7 580.8,539.7 581.8,539.7 581.8,544.4 582.8,544.4 587.4,544.4 587.4,545.0 592.0,545.0 592.5,545.0 592.5,549.5 593.0,549.5 596.1,549.5 596.1,549.9 599.2,549.9 599.7,549.9 599.7,556.6 600.2,556.6 610.4,556.6" fill="none" stroke="#c8495b" stroke-width="1.0" stroke-linejoin="miter"/>
<line x1="471.7" y1="407.1" x2="471.7" y2="409.7" stroke="#5ab55e" stroke-width="0.8"/>
<line x1="482.6" y1="420.6" x2="482.6" y2="423.2" stroke="#5ab55e" stroke-width="0.8"/>
<line x1="490.8" y1="434.7" x2="490.8" y2="437.3" stroke="#5ab55e" stroke-width="0.8"/>
<line x1="485.9" y1="426.1" x2="485.9" y2="428.7" stroke="#5ab55e" stroke-width="0.8"/>
<line x1="494.5" y1="439.7" x2="494.5" y2="442.3" stroke="#5ab55e" stroke-width="0.8"/>
<line x1="500.1" y1="447.2" x2="500.1" y2="449.8" stroke="#5ab55e" stroke-width="0.8"/>
<line x1="504.2" y1="452.8" x2="504.2" y2="455.4" stroke="#5ab55e" stroke-width="0.8"/>
<line x1="508.1" y1="458.1" x2="508.1" y2="460.7" stroke="#5ab55e" stroke-width="0.8"/>
<line x1="513.7" y1="466.0" x2="513.7" y2="468.6" stroke="#5ab55e" stroke-width="0.8"/>
<line x1="521.5" y1="476.4" x2="521.5" y2="479.0" stroke="#5ab55e" stroke-width="0.8"/>
<line x1="535.9" y1="492.9" x2="535.9" y2="495.5" stroke="#5ab55e" stroke-width="0.8"/>
<line x1="549.0" y1="503.6" x2="549.0" y2="506.2" stroke="#5ab55e" stroke-width="0.8"/>
<line x1="629.8" y1="550.2" x2="629.8" y2="552.8" stroke="#5ab55e" stroke-width="0.8"/>
<line x1="651.8" y1="554.7" x2="651.8" y2="557.3" stroke="#5ab55e" stroke-width="0.8"/>
<polyline points="470.3,407.0 471.3,407.0 471.3,408.3 472.7,408.3 472.7,409.6 473.9,409.6 473.9,410.5 475.2,410.5 475.2,411.4 475.8,411.4 475.8,412.7 477.3,412.7 477.3,414.0 477.8,414.0 477.8,415.2 478.7,415.2 478.7,416.4 479.8,416.4 479.8,417.6 480.5,417.6 480.5,418.7 481.3,418.7 481.3,420.0 482.1,420.0 482.1,420.8 482.9,420.8 482.9,422.3 483.6,422.3 483.6,423.3 484.3,423.3 484.3,424.5 485.1,424.5 485.1,425.9 485.5,425.9 485.5,427.0 486.3,427.0 486.3,428.0 486.9,428.0 486.9,429.3 487.9,429.3 487.9,430.6 488.7,430.6 488.7,431.7 489.3,431.7 489.3,433.1 489.8,433.1 489.8,434.4 490.7,434.4 490.7,435.9 491.3,435.9 491.3,436.8 491.9,436.8 491.9,438.0 493.1,438.0 493.1,439.4 493.7,439.4 493.7,440.3 494.6,440.3 494.6,441.1 495.8,441.1 495.8,442.6 496.5,442.6 496.5,443.8 497.4,443.8 497.4,444.7 498.5,444.7 498.5,446.2 499.4,446.2 499.4,447.1 500.0,447.1 500.0,448.2 500.9,448.2 500.9,449.3 501.8,449.3 501.8,450.8 502.4,450.8 502.4,452.2 503.6,452.2 503.6,452.9 504.2,452.9 504.2,454.0 505.5,454.0 505.5,455.6 505.9,455.6 505.9,456.5 507.0,456.5 507.0,457.8 507.9,457.8 507.9,459.1 508.4,459.1 508.4,459.8 509.1,459.8 509.1,461.3 510.2,461.3 510.2,462.5 510.9,462.5 510.9,463.4 511.7,463.4 511.7,464.9 512.3,464.9 512.3,465.7 513.2,465.7 513.2,466.6 514.7,466.6 514.7,468.3 515.6,468.3 515.6,469.6 516.2,469.6 516.2,470.3 517.6,470.3 517.6,471.8 518.3,471.8 518.3,472.8 519.2,472.8 519.2,474.1 519.7,474.1 519.7,475.1 520.7,475.1 520.7,476.4 521.3,476.4 521.3,477.2 521.9,477.2 521.9,478.8 522.8,478.8 522.8,479.7 524.0,479.7 524.0,480.7 525.6,480.7 525.6,481.8 526.9,481.8 526.9,483.2 528.1,483.2 528.1,484.1 529.5,484.1 529.5,485.2 530.4,485.2 530.4,486.4 531.4,486.4 531.4,488.4 532.4,488.4 532.4,489.3 533.4,489.3 533.4,490.9 534.3,490.9 534.3,492.0 535.0,492.0 535.0,493.1 536.0,493.1 536.0,494.1 536.8,494.1 536.8,495.5 537.6,495.5 537.6,496.7 538.8,496.7 538.8,497.8 539.4,497.8 539.4,499.1 540.3,499.1 540.3,500.0 541.7,500.0 541.7,500.8 542.5,500.8 542.5,502.2 543.8,502.2 543.8,503.5 544.9,503.5 544.9,503.8 546.1,503.8 546.1,504.2 547.4,504.2 547.4,504.5 548.6,504.5 548.6,504.8 549.2,504.8 549.2,505.1 550.9,505.1 550.9,505.3 552.0,505.3 552.0,505.6 553.2,505.6 553.2,506.0 554.1,506.0 554.1,506.3 555.2,506.3 555.2,506.6 556.2,506.6 556.2,510.2 557.3,510.2 559.3,510.2 559.3,512.3 561.4,512.3 563.4,512.3 563.4,513.7 565.4,513.7 567.5,513.7 567.5,516.4 569.5,516.4 570.5,516.4 570.5,520.9 571.6,520.9 572.6,520.9 572.6,523.9 573.6,523.9 574.7,523.9 574.7,526.0 575.7,526.0 577.7,526.0 577.7,528.0 579.7,528.0 581.8,528.0 581.8,530.1 583.8,530.1 585.8,530.1 585.8,533.5 587.9,533.5 591.0,533.5 591.0,535.2 594.0,535.2 596.0,535.2 596.0,536.8 598.1,536.8 601.2,536.8 601.2,539.3 604.3,539.3 607.3,539.3 607.3,540.3 610.4,540.3 611.4,540.3 611.4,544.4 612.4,544.4 615.0,544.4 615.0,545.4 617.6,545.4 619.6,545.4 619.6,547.4 621.6,547.4 624.2,547.4 624.2,547.9 626.7,547.9 627.8,547.9 627.8,551.5 628.8,551.5 634.4,551.5 634.4,551.9 640.0,551.9 640.5,551.9 640.5,556.0 641.1,556.0 655.4,556.0" fill="none" stroke="#5ab55e" stroke-width="1.15" stroke-linejoin="miter"/>
<line x1="477.8" y1="411.0" x2="477.8" y2="413.6" stroke="#e07a3e" stroke-width="0.8"/>
<line x1="502.9" y1="431.4" x2="502.9" y2="434.0" stroke="#e07a3e" stroke-width="0.8"/>
<line x1="504.2" y1="432.7" x2="504.2" y2="435.3" stroke="#e07a3e" stroke-width="0.8"/>
<line x1="510.8" y1="440.0" x2="510.8" y2="442.6" stroke="#e07a3e" stroke-width="0.8"/>
<line x1="522.3" y1="452.8" x2="522.3" y2="455.4" stroke="#e07a3e" stroke-width="0.8"/>
<line x1="529.5" y1="467.3" x2="529.5" y2="469.9" stroke="#e07a3e" stroke-width="0.8"/>
<line x1="549.4" y1="475.8" x2="549.4" y2="478.4" stroke="#e07a3e" stroke-width="0.8"/>
<line x1="559.7" y1="489.8" x2="559.7" y2="492.4" stroke="#e07a3e" stroke-width="0.8"/>
<line x1="560.8" y1="496.8" x2="560.8" y2="499.4" stroke="#e07a3e" stroke-width="0.8"/>
<line x1="570.2" y1="502.2" x2="570.2" y2="504.8" stroke="#e07a3e" stroke-width="0.8"/>
<line x1="577.4" y1="502.2" x2="577.4" y2="504.8" stroke="#e07a3e" stroke-width="0.8"/>
<line x1="615.3" y1="525.3" x2="615.3" y2="527.9" stroke="#e07a3e" stroke-width="0.8"/>
<line x1="639.1" y1="531.4" x2="639.1" y2="534.0" stroke="#e07a3e" stroke-width="0.8"/>
<line x1="629.2" y1="531.4" x2="629.2" y2="534.0" stroke="#e07a3e" stroke-width="0.8"/>
<line x1="630.8" y1="531.4" x2="630.8" y2="534.0" stroke="#e07a3e" stroke-width="0.8"/>
<polyline points="470.3,407.0 471.7,407.0 471.7,407.9 472.6,407.9 472.6,408.8 474.1,408.8 474.1,409.5 475.6,409.5 475.6,410.3 476.8,410.3 476.8,411.2 477.8,411.2 477.8,412.3 479.0,412.3 479.0,413.1 480.2,413.1 480.2,413.8 481.7,413.8 481.7,414.3 482.9,414.3 482.9,414.9 484.3,414.9 484.3,415.8 485.4,415.8 485.4,417.0 486.0,417.0 486.0,418.1 486.7,418.1 486.7,418.8 487.8,418.8 487.8,420.1 489.2,420.1 489.2,420.9 490.3,420.9 490.3,422.0 491.7,422.0 491.7,423.7 493.0,423.7 493.0,424.5 494.6,424.5 494.6,425.2 495.6,425.2 495.6,426.4 497.0,426.4 497.0,427.1 498.3,427.1 498.3,428.0 499.9,428.0 499.9,429.7 501.1,429.7 501.1,430.5 502.4,430.5 502.4,431.6 503.5,431.6 503.5,433.3 504.6,433.3 504.6,434.2 505.9,434.2 505.9,435.9 507.1,435.9 507.1,437.5 508.8,437.5 508.8,438.5 509.7,438.5 509.7,439.8 510.8,439.8 510.8,440.9 511.7,440.9 511.7,441.9 512.1,441.9 512.1,443.8 513.2,443.8 513.2,444.7 514.1,444.7 514.1,446.1 515.4,446.1 515.4,447.0 516.6,447.0 516.6,447.9 517.6,447.9 517.6,449.1 518.7,449.1 518.7,450.5 519.6,450.5 519.6,451.1 521.2,451.1 521.2,452.0 522.0,452.0 522.0,453.4 522.5,453.4 522.5,454.2 523.1,454.2 523.1,455.9 523.8,455.9 523.8,457.0 524.4,457.0 524.4,458.2 524.9,458.2 524.9,459.6 525.4,459.6 525.4,460.4 525.9,460.4 525.9,461.7 526.5,461.7 526.5,463.1 527.4,463.1 527.4,463.9 528.1,463.9 528.1,465.3 528.6,465.3 528.6,466.5 529.1,466.5 529.1,467.7 529.8,467.7 529.8,469.2 530.9,469.2 530.9,470.2 531.8,470.2 531.8,472.0 532.9,472.0 532.9,472.8 534.2,472.8 534.2,474.5 535.4,474.5 535.4,475.3 536.2,475.3 536.2,475.7 537.2,475.7 537.2,476.6 538.6,476.6 538.6,477.1 552.6,477.1 554.4,477.1 554.4,480.6 556.1,480.6 557.4,480.6 557.4,485.8 558.7,485.8 559.5,485.8 559.5,494.2 560.3,494.2 560.8,494.2 560.8,502.9 561.4,502.9 562.4,502.9 562.4,503.5 563.4,503.5 581.8,503.5 582.3,503.5 582.3,506.6 582.8,506.6 585.3,506.6 585.3,507.0 587.9,507.0 588.4,507.0 588.4,510.7 588.9,510.7 591.0,510.7 591.0,513.7 593.0,513.7 593.5,513.7 593.5,516.8 594.0,516.8 596.6,516.8 596.6,517.8 599.2,517.8 599.7,517.8 599.7,521.9 600.2,521.9 607.3,521.9 607.8,521.9 607.8,526.6 608.4,526.6 622.7,526.6 623.2,526.6 623.2,532.7 623.7,532.7 649.2,532.7" fill="none" stroke="#e07a3e" stroke-width="1.0" stroke-linejoin="miter"/>
<line x1="471.2" y1="406.2" x2="471.2" y2="408.8" stroke="#4a72c2" stroke-width="0.8"/>
<line x1="496.5" y1="423.6" x2="496.5" y2="426.2" stroke="#4a72c2" stroke-width="0.8"/>
<line x1="503.5" y1="430.3" x2="503.5" y2="432.9" stroke="#4a72c2" stroke-width="0.8"/>
<line x1="509.0" y1="434.4" x2="509.0" y2="437.0" stroke="#4a72c2" stroke-width="0.8"/>
<line x1="515.0" y1="438.5" x2="515.0" y2="441.1" stroke="#4a72c2" stroke-width="0.8"/>
<line x1="528.4" y1="447.2" x2="528.4" y2="449.8" stroke="#4a72c2" stroke-width="0.8"/>
<line x1="532.6" y1="451.2" x2="532.6" y2="453.8" stroke="#4a72c2" stroke-width="0.8"/>
<line x1="546.9" y1="464.0" x2="546.9" y2="466.6" stroke="#4a72c2" stroke-width="0.8"/>
<line x1="553.6" y1="470.7" x2="553.6" y2="473.3" stroke="#4a72c2" stroke-width="0.8"/>
<line x1="626.5" y1="510.4" x2="626.5" y2="513.0" stroke="#4a72c2" stroke-width="0.8"/>
<line x1="634.2" y1="510.4" x2="634.2" y2="513.0" stroke="#4a72c2" stroke-width="0.8"/>
<line x1="655.5" y1="536.3" x2="655.5" y2="538.9" stroke="#4a72c2" stroke-width="0.8"/>
<line x1="647.9" y1="536.3" x2="647.9" y2="538.9" stroke="#4a72c2" stroke-width="0.8"/>
<polyline points="470.3,407.0 471.2,407.0 471.2,407.6 472.8,407.6 472.8,408.4 473.8,408.4 473.8,409.0 474.7,409.0 474.7,409.8 476.4,409.8 476.4,410.8 477.3,410.8 477.3,411.4 478.5,411.4 478.5,411.9 479.6,411.9 479.6,412.7 481.2,412.7 481.2,413.0 482.5,413.0 482.5,413.7 484.2,413.7 484.2,414.5 484.8,414.5 484.8,415.0 486.8,415.0 486.8,415.9 487.8,415.9 487.8,416.6 488.9,416.6 488.9,417.6 490.2,417.6 490.2,419.1 491.5,419.1 491.5,420.2 493.0,420.2 493.0,421.0 494.3,421.0 494.3,422.0 494.8,422.0 494.8,423.6 495.9,423.6 495.9,424.1 497.2,424.1 497.2,425.7 497.7,425.7 497.7,426.5 499.1,426.5 499.1,427.5 500.0,427.5 500.0,428.9 500.8,428.9 500.8,430.0 502.6,430.0 502.6,430.5 503.5,430.5 503.5,431.6 504.4,431.6 504.4,432.2 505.8,432.2 505.8,433.1 507.0,433.1 507.0,434.2 508.4,434.2 508.4,435.1 509.5,435.1 509.5,435.9 510.3,435.9 510.3,436.7 511.4,436.7 511.4,437.5 512.6,437.5 512.6,438.6 514.1,438.6 514.1,439.4 515.4,439.4 515.4,440.1 516.7,440.1 516.7,440.5 517.7,440.5 517.7,441.2 518.6,441.2 518.6,441.6 519.6,441.6 519.6,442.4 521.1,442.4 521.1,442.9 522.3,442.9 522.3,443.8 524.0,443.8 524.0,444.4 525.3,444.4 525.3,445.7 526.3,445.7 526.3,446.4 527.6,446.4 527.6,447.5 529.2,447.5 529.2,449.3 530.1,449.3 530.1,450.3 531.6,450.3 531.6,451.7 532.5,451.7 532.5,452.7 533.8,452.7 533.8,453.7 535.2,453.7 535.2,454.5 535.9,454.5 535.9,455.9 537.4,455.9 537.4,457.0 538.6,457.0 538.6,457.8 540.2,457.8 540.2,458.8 541.1,458.8 541.1,460.2 542.7,460.2 542.7,460.8 543.8,460.8 543.8,462.2 545.4,462.2 545.4,463.5 546.8,463.5 546.8,464.8 547.8,464.8 547.8,466.1 549.1,466.1 549.1,467.4 550.0,467.4 550.0,468.5 552.1,468.5 552.1,469.7 552.8,469.7 552.8,471.2 554.3,471.2 554.3,472.7 555.8,472.7 555.8,473.1 556.4,473.1 556.4,473.6 557.7,473.6 557.7,474.3 559.4,474.3 559.4,474.8 560.5,474.8 560.5,475.3 561.6,475.3 561.6,476.6 562.8,476.6 562.8,477.6 563.5,477.6 563.5,478.3 564.9,478.3 564.9,479.7 567.5,479.7 567.5,482.3 570.1,482.3 571.2,482.3 571.2,485.8 572.2,485.8 574.7,485.8 574.7,487.6 577.1,487.6 580.0,487.6 580.0,488.2 582.8,488.2 585.8,488.2 585.8,489.8 588.9,489.8 589.5,489.8 589.5,494.3 590.0,494.3 592.5,494.3 592.5,496.3 595.1,496.3 596.6,496.3 596.6,498.4 598.1,498.4 600.7,498.4 600.7,498.8 603.2,498.8 604.2,498.8 604.2,501.5 605.3,501.5 607.3,501.5 607.3,502.5 609.4,502.5 612.5,502.5 612.5,505.5 615.5,505.5 618.0,505.5 618.0,508.6 620.6,508.6 621.1,508.6 621.1,511.7 621.6,511.7 644.1,511.7 644.1,537.6 660.5,537.6" fill="none" stroke="#4a72c2" stroke-width="1.15" stroke-linejoin="miter"/>
<line x1="364.4" y1="592.4" x2="677.4" y2="592.4" stroke="#333" stroke-width="0.9"/>
<line x1="364.4" y1="605.3" x2="677.4" y2="605.3" stroke="#333" stroke-width="0.9"/>
<line x1="364.4" y1="618.0" x2="677.4" y2="618.0" stroke="#333" stroke-width="0.9"/>
<line x1="364.4" y1="630.4" x2="677.4" y2="630.4" stroke="#333" stroke-width="0.9"/>
<line x1="364.4" y1="642.8" x2="677.4" y2="642.8" stroke="#333" stroke-width="0.9"/>
<line x1="364.4" y1="592.4" x2="364.4" y2="642.8" stroke="#333" stroke-width="0.9"/>
<line x1="470.4" y1="592.4" x2="470.4" y2="642.8" stroke="#333" stroke-width="0.9"/>
<line x1="504.9" y1="592.4" x2="504.9" y2="642.8" stroke="#333" stroke-width="0.9"/>
<line x1="540.0" y1="592.4" x2="540.0" y2="642.8" stroke="#333" stroke-width="0.9"/>
<line x1="574.3" y1="592.4" x2="574.3" y2="642.8" stroke="#333" stroke-width="0.9"/>
<line x1="608.8" y1="592.4" x2="608.8" y2="642.8" stroke="#333" stroke-width="0.9"/>
<line x1="643.1" y1="592.4" x2="643.1" y2="642.8" stroke="#333" stroke-width="0.9"/>
<line x1="677.4" y1="592.4" x2="677.4" y2="642.8" stroke="#333" stroke-width="0.9"/>
<text x="417.4" y="601.7" font-size="7.1" font-weight="bold" font-style="normal" text-anchor="middle" fill="#111"><tspan font-style="italic">ABCC1</tspan> Q1-3/<tspan font-style="italic">ERBB2</tspan> Q4</text>
<text x="487.6" y="601.7" font-size="7.1" font-weight="normal" font-style="normal" text-anchor="middle" fill="#222">313</text>
<text x="522.5" y="601.7" font-size="7.1" font-weight="normal" font-style="normal" text-anchor="middle" fill="#222">210</text>
<text x="557.1" y="601.7" font-size="7.1" font-weight="normal" font-style="normal" text-anchor="middle" fill="#222">109</text>
<text x="591.5" y="601.7" font-size="7.1" font-weight="normal" font-style="normal" text-anchor="middle" fill="#222">42</text>
<text x="626.0" y="601.7" font-size="7.1" font-weight="normal" font-style="normal" text-anchor="middle" fill="#222">17</text>
<text x="660.2" y="601.7" font-size="7.1" font-weight="normal" font-style="normal" text-anchor="middle" fill="#222">1</text>
<text x="417.4" y="614.5" font-size="7.1" font-weight="bold" font-style="normal" text-anchor="middle" fill="#111"><tspan font-style="italic">ABCC1</tspan> Q4/<tspan font-style="italic">ERBB2</tspan> Q4</text>
<text x="487.6" y="614.5" font-size="7.1" font-weight="normal" font-style="normal" text-anchor="middle" fill="#222">140</text>
<text x="522.5" y="614.5" font-size="7.1" font-weight="normal" font-style="normal" text-anchor="middle" fill="#222">91</text>
<text x="557.1" y="614.5" font-size="7.1" font-weight="normal" font-style="normal" text-anchor="middle" fill="#222">45</text>
<text x="591.5" y="614.5" font-size="7.1" font-weight="normal" font-style="normal" text-anchor="middle" fill="#222">18</text>
<text x="626.0" y="614.5" font-size="7.1" font-weight="normal" font-style="normal" text-anchor="middle" fill="#222">8</text>
<text x="660.2" y="614.5" font-size="7.1" font-weight="normal" font-style="normal" text-anchor="middle" fill="#222">0</text>
<text x="417.4" y="627.1" font-size="7.1" font-weight="bold" font-style="normal" text-anchor="middle" fill="#111"><tspan font-style="italic">ABCC1</tspan> Q1-3/<tspan font-style="italic">ERBB2</tspan> Q1-3</text>
<text x="487.6" y="627.1" font-size="7.1" font-weight="normal" font-style="normal" text-anchor="middle" fill="#222">1048</text>
<text x="522.5" y="627.1" font-size="7.1" font-weight="normal" font-style="normal" text-anchor="middle" fill="#222">512</text>
<text x="557.1" y="627.1" font-size="7.1" font-weight="normal" font-style="normal" text-anchor="middle" fill="#222">111</text>
<text x="591.5" y="627.1" font-size="7.1" font-weight="normal" font-style="normal" text-anchor="middle" fill="#222">22</text>
<text x="626.0" y="627.1" font-size="7.1" font-weight="normal" font-style="normal" text-anchor="middle" fill="#222">8</text>
<text x="660.2" y="627.1" font-size="7.1" font-weight="normal" font-style="normal" text-anchor="middle" fill="#222">1</text>
<text x="417.4" y="639.5" font-size="7.1" font-weight="bold" font-style="normal" text-anchor="middle" fill="#111"><tspan font-style="italic">ABCC1</tspan> Q4/ <tspan font-style="italic">ERBB2</tspan> Q1-3</text>
<text x="487.6" y="639.5" font-size="7.1" font-weight="normal" font-style="normal" text-anchor="middle" fill="#222">314</text>
<text x="522.5" y="639.5" font-size="7.1" font-weight="normal" font-style="normal" text-anchor="middle" fill="#222">132</text>
<text x="557.1" y="639.5" font-size="7.1" font-weight="normal" font-style="normal" text-anchor="middle" fill="#222">21</text>
<text x="591.5" y="639.5" font-size="7.1" font-weight="normal" font-style="normal" text-anchor="middle" fill="#222">5</text>
<text x="626.0" y="639.5" font-size="7.1" font-weight="normal" font-style="normal" text-anchor="middle" fill="#222">0</text>
<text x="660.2" y="639.5" font-size="7.1" font-weight="normal" font-style="normal" text-anchor="middle" fill="#222">0</text>
</svg>
</body></html>
